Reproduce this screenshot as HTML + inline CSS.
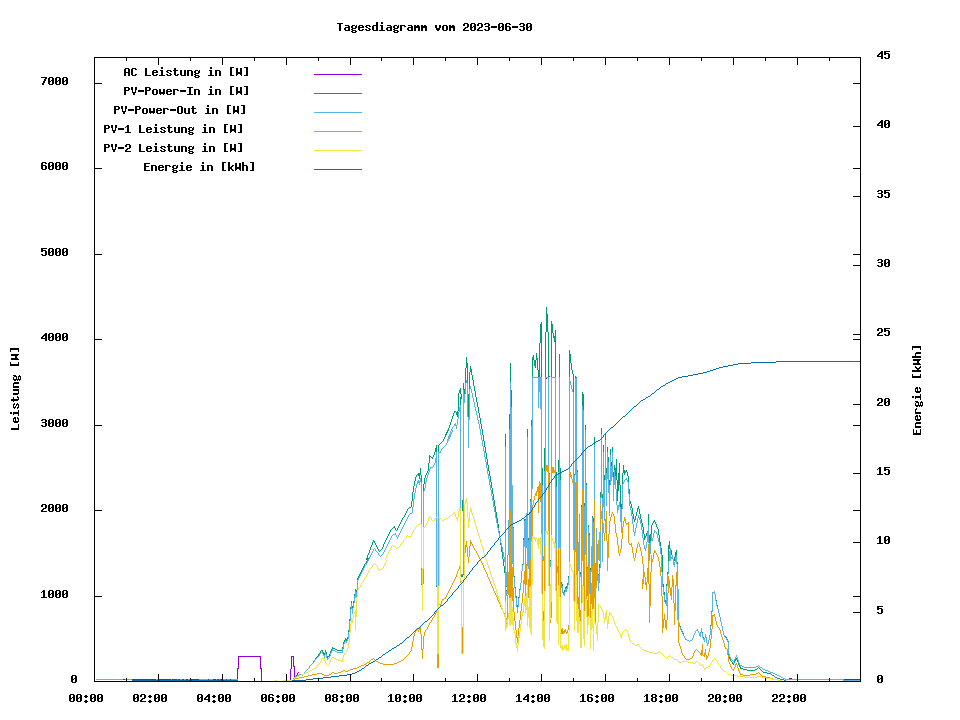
<!DOCTYPE html>
<html lang="de"><head><meta charset="utf-8"><title>Tagesdiagramm vom 2023-06-30</title>
<style>html,body{margin:0;padding:0;background:#fff;font-family:"Liberation Mono",monospace}svg{display:block}</style></head>
<body>
<svg width="960" height="720" viewBox="0 0 960 720" shape-rendering="crispEdges" role="img" aria-label="Tagesdiagramm vom 2023-06-30">
<rect width="960" height="720" fill="#fff"/>
<path id="series-ac" fill="#9400d3" d="M549 376h1v1h-1zM540 377h2v1h-2zM547 377h2v1h-2zM552 377h4v1h-4zM546 378h1v1h-1zM538 393h1v1h-1zM538 394h1v1h-1zM538 395h1v1h-1zM238 656h23v1h-23zM291 656h3v1h-3zM238 657h1v1h-1zM260 657h1v1h-1zM291 657h1v1h-1zM293 657h1v1h-1zM238 658h1v1h-1zM260 658h1v1h-1zM291 658h1v1h-1zM293 658h1v1h-1zM238 659h1v1h-1zM260 659h1v1h-1zM291 659h1v1h-1zM293 659h1v1h-1zM238 660h1v1h-1zM260 660h1v1h-1zM291 660h1v1h-1zM293 660h1v1h-1zM238 661h1v1h-1zM260 661h1v1h-1zM291 661h1v1h-1zM293 661h1v1h-1zM238 662h1v1h-1zM260 662h1v1h-1zM291 662h1v1h-1zM293 662h1v1h-1zM238 663h1v1h-1zM260 663h1v1h-1zM291 663h1v1h-1zM293 663h1v1h-1zM238 664h1v1h-1zM260 664h1v1h-1zM291 664h1v1h-1zM293 664h1v1h-1zM238 665h1v1h-1zM260 665h1v1h-1zM291 665h1v1h-1zM293 665h1v1h-1zM238 666h1v1h-1zM260 666h1v1h-1zM291 666h1v1h-1zM293 666h2v1h-2zM238 667h1v1h-1zM260 667h1v1h-1zM291 667h1v1h-1zM294 667h1v1h-1zM237 668h2v1h-2zM260 668h2v1h-2zM291 668h1v1h-1zM294 668h1v1h-1zM237 669h1v1h-1zM261 669h1v1h-1zM290 669h1v1h-1zM294 669h1v1h-1zM237 670h1v1h-1zM261 670h1v1h-1zM290 670h1v1h-1zM294 670h1v1h-1zM237 671h1v1h-1zM261 671h1v1h-1zM290 671h1v1h-1zM294 671h1v1h-1zM237 672h1v1h-1zM261 672h1v1h-1zM290 672h1v1h-1zM294 672h1v1h-1zM298 672h1v1h-1zM237 673h1v1h-1zM261 673h1v1h-1zM290 673h1v1h-1zM294 673h1v1h-1zM297 673h1v1h-1zM237 674h1v1h-1zM261 674h1v1h-1zM290 674h1v1h-1zM294 674h1v1h-1zM297 674h1v1h-1zM237 675h1v1h-1zM261 675h1v1h-1zM290 675h1v1h-1zM294 675h1v1h-1zM296 675h1v1h-1zM237 676h1v1h-1zM261 676h1v1h-1zM290 676h1v1h-1zM294 676h2v1h-2zM237 677h1v1h-1zM261 677h1v1h-1zM290 677h1v1h-1zM294 677h2v1h-2zM237 678h1v1h-1zM261 678h1v1h-1zM290 678h1v1h-1zM294 678h1v1h-1zM789 678h3v1h-3zM797 678h1v1h-1zM123 679h2v1h-2zM132 679h24v1h-24zM158 679h13v1h-13zM172 679h5v1h-5zM178 679h2v1h-2zM182 679h2v1h-2zM186 679h2v1h-2zM190 679h9v1h-9zM208 679h1v1h-1zM213 679h3v1h-3zM217 679h2v1h-2zM220 679h2v1h-2zM226 679h1v1h-1zM230 679h1v1h-1zM237 679h1v1h-1zM261 679h1v1h-1zM290 679h1v1h-1zM843 679h18v1h-18zM237 680h1v1h-1zM261 680h1v1h-1zM290 680h1v1h-1z"/>
<path id="series-pin" fill="#009e73" d="M292 680h1v1h-1zM293 678h1v2h-1zM294 677h1v1h-1zM295 676h1v1h-1zM296 676h1v1h-1zM297 675h1v1h-1zM298 675h1v1h-1zM299 674h1v1h-1zM300 674h1v1h-1zM301 674h1v1h-1zM302 675h1v1h-1zM303 674h1v1h-1zM304 672h1v2h-1zM305 671h1v1h-1zM306 670h1v1h-1zM307 669h1v1h-1zM308 668h1v1h-1zM309 666h1v2h-1zM310 665h1v1h-1zM311 664h1v1h-1zM312 663h1v1h-1zM313 661h1v2h-1zM314 660h1v1h-1zM315 658h1v2h-1zM316 657h1v1h-1zM317 656h1v1h-1zM318 654h1v2h-1zM319 653h1v1h-1zM320 651h1v2h-1zM321 650h1v1h-1zM322 650h1v2h-1zM323 652h1v2h-1zM324 653h1v3h-1zM325 650h1v3h-1zM326 652h1v4h-1zM327 656h1v2h-1zM328 656h1v1h-1zM329 654h1v2h-1zM330 651h1v3h-1zM331 649h1v2h-1zM332 647h1v2h-1zM333 648h1v1h-1zM334 648h1v1h-1zM335 649h1v1h-1zM336 649h1v1h-1zM337 650h1v1h-1zM338 650h1v1h-1zM339 650h1v1h-1zM340 650h1v1h-1zM341 650h1v1h-1zM342 647h1v4h-1zM343 642h1v5h-1zM344 640h1v2h-1zM345 638h1v2h-1zM346 639h1v2h-1zM347 637h1v2h-1zM348 630h1v7h-1zM349 619h1v11h-1zM350 607h1v12h-1zM351 601h1v6h-1zM352 606h1v6h-1zM353 601h1v5h-1zM354 594h1v7h-1zM355 589h1v7h-1zM356 590h1v12h-1zM357 578h1v12h-1zM358 576h1v2h-1zM359 574h1v2h-1zM360 572h1v2h-1zM361 570h1v2h-1zM362 568h1v2h-1zM363 566h1v2h-1zM364 564h1v2h-1zM365 563h1v1h-1zM366 558h1v2h-1zM366 561h1v2h-1zM367 555h1v6h-1zM368 553h1v2h-1zM368 558h1v1h-1zM369 550h1v3h-1zM370 547h1v3h-1zM371 545h1v2h-1zM372 542h1v3h-1zM373 540h1v2h-1zM374 541h1v2h-1zM375 543h1v2h-1zM376 545h1v2h-1zM377 547h1v2h-1zM378 549h1v2h-1zM379 551h1v1h-1zM380 550h1v1h-1zM381 549h1v1h-1zM382 547h1v2h-1zM383 544h1v3h-1zM384 542h1v2h-1zM385 540h1v2h-1zM386 538h1v2h-1zM387 536h1v2h-1zM388 534h1v2h-1zM389 532h1v2h-1zM390 530h1v2h-1zM391 529h1v1h-1zM392 528h1v1h-1zM393 527h1v1h-1zM394 526h1v2h-1zM395 528h1v2h-1zM396 530h1v1h-1zM397 528h1v2h-1zM398 526h1v2h-1zM399 524h1v2h-1zM400 522h1v2h-1zM401 520h1v2h-1zM402 518h1v2h-1zM403 517h1v1h-1zM404 515h1v2h-1zM405 513h1v2h-1zM406 511h1v2h-1zM407 509h1v2h-1zM408 508h1v1h-1zM409 507h1v1h-1zM410 507h1v1h-1zM411 501h1v6h-1zM412 492h1v9h-1zM413 486h1v6h-1zM414 481h1v5h-1zM415 477h1v4h-1zM416 475h1v2h-1zM417 474h1v1h-1zM418 473h1v3h-1zM419 473h1v6h-1zM420 468h1v7h-1zM421 475h1v110h-1zM422 584h1v2h-1zM423 484h1v100h-1zM424 478h1v6h-1zM425 475h1v3h-1zM426 473h1v2h-1zM427 471h1v2h-1zM428 463h1v8h-1zM429 455h1v8h-1zM430 456h1v1h-1zM431 457h1v1h-1zM432 457h1v2h-1zM433 455h1v2h-1zM434 452h1v3h-1zM435 448h1v4h-1zM436 445h1v142h-1zM437 580h1v9h-1zM438 445h1v142h-1zM439 444h1v1h-1zM440 443h1v1h-1zM441 442h1v1h-1zM442 441h1v1h-1zM443 439h1v2h-1zM444 437h1v2h-1zM445 434h1v3h-1zM446 432h1v3h-1zM447 430h1v3h-1zM448 428h1v3h-1zM449 425h1v3h-1zM450 422h1v3h-1zM451 419h1v3h-1zM452 416h1v3h-1zM453 413h1v3h-1zM454 411h1v2h-1zM455 411h1v1h-1zM456 412h1v3h-1zM457 411h1v6h-1zM458 393h1v18h-1zM459 390h1v3h-1zM460 388h1v6h-1zM460 397h1v178h-1zM461 394h1v5h-1zM461 575h1v2h-1zM462 500h1v11h-1zM462 575h1v2h-1zM463 383h1v192h-1zM464 389h1v12h-1zM465 368h1v21h-1zM466 357h1v11h-1zM467 363h1v31h-1zM468 394h1v27h-1zM469 372h1v27h-1zM470 366h1v6h-1zM471 369h1v6h-1zM472 375h1v5h-1zM473 380h1v6h-1zM474 386h1v5h-1zM475 391h1v6h-1zM476 397h1v5h-1zM477 402h1v5h-1zM478 407h1v6h-1zM479 413h1v5h-1zM480 418h1v6h-1zM481 424h1v5h-1zM482 429h1v6h-1zM483 435h1v6h-1zM484 441h1v6h-1zM485 447h1v6h-1zM486 453h1v6h-1zM487 459h1v6h-1zM488 465h1v6h-1zM489 471h1v5h-1zM490 476h1v6h-1zM491 482h1v6h-1zM492 488h1v6h-1zM493 494h1v6h-1zM494 500h1v6h-1zM495 506h1v6h-1zM496 512h1v6h-1zM497 518h1v6h-1zM498 524h1v7h-1zM499 531h1v7h-1zM500 538h1v7h-1zM501 545h1v7h-1zM502 552h1v7h-1zM503 559h1v7h-1zM504 566h1v7h-1zM505 434h1v162h-1zM506 580h1v7h-1zM506 590h1v6h-1zM507 555h1v37h-1zM508 520h1v35h-1zM509 414h1v164h-1zM510 363h1v209h-1zM511 390h1v177h-1zM512 485h1v78h-1zM513 527h1v49h-1zM514 576h1v11h-1zM515 587h1v9h-1zM516 596h1v10h-1zM517 605h1v6h-1zM518 597h1v8h-1zM519 589h1v8h-1zM520 583h1v6h-1zM521 571h1v12h-1zM522 564h1v7h-1zM523 538h1v26h-1zM524 519h1v27h-1zM525 519h1v53h-1zM526 513h1v34h-1zM527 429h1v156h-1zM528 538h1v30h-1zM529 512h1v85h-1zM530 499h1v102h-1zM531 420h1v180h-1zM532 357h1v130h-1zM533 355h1v5h-1zM534 360h1v6h-1zM535 360h1v8h-1zM536 353h1v7h-1zM537 358h1v12h-1zM538 370h1v20h-1zM539 343h1v40h-1zM540 324h1v19h-1zM541 322h1v146h-1zM542 468h1v94h-1zM543 556h1v5h-1zM544 448h1v117h-1zM545 332h1v116h-1zM546 307h1v25h-1zM547 314h1v18h-1zM548 332h1v141h-1zM549 473h1v98h-1zM550 560h1v6h-1zM551 321h1v249h-1zM552 324h1v9h-1zM553 333h1v5h-1zM554 336h1v6h-1zM555 330h1v142h-1zM556 472h1v94h-1zM557 566h1v5h-1zM558 460h1v106h-1zM559 354h1v114h-1zM560 468h1v118h-1zM561 582h1v6h-1zM562 584h1v8h-1zM563 592h1v2h-1zM564 590h1v6h-1zM565 587h1v3h-1zM566 586h1v4h-1zM567 583h1v5h-1zM568 576h1v9h-1zM569 350h1v226h-1zM570 354h1v9h-1zM571 363h1v7h-1zM572 370h1v4h-1zM573 374h1v100h-1zM574 474h1v99h-1zM575 376h1v98h-1zM576 377h1v183h-1zM577 470h1v96h-1zM578 542h1v29h-1zM579 514h1v63h-1zM580 572h1v5h-1zM581 505h1v73h-1zM582 392h1v122h-1zM583 394h1v187h-1zM584 503h1v79h-1zM585 425h1v78h-1zM586 483h1v84h-1zM587 567h1v27h-1zM588 525h1v68h-1zM589 533h1v35h-1zM590 568h1v31h-1zM591 546h1v26h-1zM592 516h1v77h-1zM593 518h1v82h-1zM594 437h1v156h-1zM595 563h1v36h-1zM596 528h1v35h-1zM597 544h1v30h-1zM598 574h1v15h-1zM599 564h1v16h-1zM600 492h1v72h-1zM601 428h1v66h-1zM602 494h1v65h-1zM603 445h1v57h-1zM604 475h1v42h-1zM605 434h1v41h-1zM606 468h1v33h-1zM607 447h1v27h-1zM608 457h1v32h-1zM609 480h1v32h-1zM610 449h1v31h-1zM611 462h1v15h-1zM612 447h1v25h-1zM613 472h1v25h-1zM614 465h1v16h-1zM615 468h1v9h-1zM616 459h1v21h-1zM617 480h1v21h-1zM618 473h1v18h-1zM619 463h1v22h-1zM620 485h1v32h-1zM621 504h1v25h-1zM622 473h1v31h-1zM623 465h1v8h-1zM624 470h1v5h-1zM625 471h1v2h-1zM626 470h1v2h-1zM627 472h1v4h-1zM628 476h1v13h-1zM629 489h1v12h-1zM630 501h1v3h-1zM631 504h1v4h-1zM632 508h1v6h-1zM633 514h1v5h-1zM634 519h1v3h-1zM635 516h1v4h-1zM636 512h1v4h-1zM637 508h1v4h-1zM638 506h1v3h-1zM639 509h1v5h-1zM640 514h1v5h-1zM641 519h1v4h-1zM642 523h1v4h-1zM643 527h1v7h-1zM644 534h1v6h-1zM645 536h1v2h-1zM646 533h1v3h-1zM647 531h1v2h-1zM648 514h1v21h-1zM649 535h1v21h-1zM650 534h1v14h-1zM651 525h1v9h-1zM652 523h1v2h-1zM653 521h1v2h-1zM654 520h1v2h-1zM655 522h1v2h-1zM656 524h1v3h-1zM657 527h1v2h-1zM658 529h1v6h-1zM659 535h1v7h-1zM660 542h1v6h-1zM661 548h1v7h-1zM662 555h1v29h-1zM663 584h1v8h-1zM664 592h1v8h-1zM665 600h1v3h-1zM666 584h1v21h-1zM667 572h1v12h-1zM668 545h1v27h-1zM669 541h1v8h-1zM670 549h1v7h-1zM671 550h1v5h-1zM672 555h1v4h-1zM673 559h1v1h-1zM674 557h1v4h-1zM675 552h1v5h-1zM676 550h1v12h-1zM677 562h1v27h-1zM678 589h1v34h-1zM679 623h1v3h-1zM680 626h1v3h-1zM681 629h1v2h-1zM682 631h1v2h-1zM683 633h1v3h-1zM684 636h1v2h-1zM685 638h1v2h-1zM686 639h1v1h-1zM687 640h1v1h-1zM688 640h1v1h-1zM689 641h1v1h-1zM690 640h1v1h-1zM691 640h1v1h-1zM692 638h1v2h-1zM693 635h1v3h-1zM694 633h1v2h-1zM695 631h1v2h-1zM696 630h1v1h-1zM697 629h1v2h-1zM698 631h1v2h-1zM699 633h1v3h-1zM700 632h1v5h-1zM701 628h1v4h-1zM702 632h1v5h-1zM703 637h1v3h-1zM704 638h1v4h-1zM705 634h1v4h-1zM706 637h1v6h-1zM707 643h1v3h-1zM708 640h1v4h-1zM709 635h1v5h-1zM710 625h1v10h-1zM711 611h1v14h-1zM712 592h1v19h-1zM713 592h1v1h-1zM714 591h1v3h-1zM715 594h1v6h-1zM716 600h1v5h-1zM717 605h1v4h-1zM718 609h1v4h-1zM719 613h1v4h-1zM720 617h1v5h-1zM721 622h1v4h-1zM722 626h1v5h-1zM723 631h1v4h-1zM724 635h1v2h-1zM725 636h1v1h-1zM726 637h1v2h-1zM727 639h1v2h-1zM728 641h1v14h-1zM729 655h1v4h-1zM730 659h1v2h-1zM731 661h1v1h-1zM732 662h1v2h-1zM733 663h1v2h-1zM734 661h1v2h-1zM735 659h1v2h-1zM736 658h1v2h-1zM737 660h1v2h-1zM738 662h1v3h-1zM739 665h1v2h-1zM740 667h1v2h-1zM741 668h1v1h-1zM742 668h1v1h-1zM743 669h1v1h-1zM744 669h1v1h-1zM745 669h1v1h-1zM746 669h1v1h-1zM747 670h1v1h-1zM748 670h1v1h-1zM749 670h1v1h-1zM750 670h1v1h-1zM751 670h1v1h-1zM752 670h1v1h-1zM753 670h1v1h-1zM754 670h1v1h-1zM755 669h1v1h-1zM756 669h1v1h-1zM757 668h1v1h-1zM758 667h1v1h-1zM759 668h1v1h-1zM760 669h1v1h-1zM761 670h1v1h-1zM762 671h1v1h-1zM763 672h1v1h-1zM764 672h1v1h-1zM765 672h1v1h-1zM766 672h1v1h-1zM767 673h1v1h-1zM768 673h1v1h-1zM769 673h1v1h-1zM770 673h1v1h-1zM771 674h1v1h-1zM772 675h1v1h-1zM773 675h1v1h-1zM774 676h1v1h-1zM775 677h1v1h-1zM776 677h1v1h-1zM777 678h1v1h-1zM778 678h1v1h-1zM779 678h1v1h-1zM780 679h1v1h-1zM781 679h1v1h-1zM782 679h1v1h-1zM783 679h1v1h-1zM784 680h1v1h-1zM785 680h1v1h-1z"/>
<path id="series-pout" fill="#56b4e9" d="M96 679h1v1h-1zM97 679h1v1h-1zM98 679h1v1h-1zM99 679h1v1h-1zM100 679h1v1h-1zM101 679h1v1h-1zM102 679h1v1h-1zM103 679h1v1h-1zM104 679h1v1h-1zM105 679h1v1h-1zM106 679h1v1h-1zM107 679h1v1h-1zM108 679h1v1h-1zM109 679h1v1h-1zM110 679h1v1h-1zM111 679h1v1h-1zM112 679h1v1h-1zM113 679h1v1h-1zM114 679h1v1h-1zM115 679h1v1h-1zM116 679h1v1h-1zM117 679h1v1h-1zM118 679h1v1h-1zM119 679h1v1h-1zM120 679h1v1h-1zM121 679h1v1h-1zM122 679h1v1h-1zM125 679h1v1h-1zM126 679h1v1h-1zM127 679h1v1h-1zM128 679h1v1h-1zM129 679h1v1h-1zM130 679h1v1h-1zM131 679h1v1h-1zM156 679h1v1h-1zM157 679h1v1h-1zM171 679h1v1h-1zM177 679h1v1h-1zM180 679h1v1h-1zM181 679h1v1h-1zM184 679h1v1h-1zM185 679h1v1h-1zM188 679h1v1h-1zM189 679h1v1h-1zM199 679h1v1h-1zM200 679h1v1h-1zM201 679h1v1h-1zM202 679h1v1h-1zM203 679h1v1h-1zM204 679h1v1h-1zM205 679h1v1h-1zM206 679h1v1h-1zM207 679h1v1h-1zM209 679h1v1h-1zM210 679h1v1h-1zM211 679h1v1h-1zM212 679h1v1h-1zM216 679h1v1h-1zM219 679h1v1h-1zM222 679h1v1h-1zM223 679h1v1h-1zM224 679h1v1h-1zM225 679h1v1h-1zM227 679h1v1h-1zM228 679h1v1h-1zM229 679h1v1h-1zM231 679h1v1h-1zM232 679h1v1h-1zM233 679h1v1h-1zM234 679h1v1h-1zM235 679h1v1h-1zM236 679h1v1h-1zM237 679h1v1h-1zM292 680h1v1h-1zM293 678h1v2h-1zM294 677h1v1h-1zM295 676h1v1h-1zM296 676h1v1h-1zM297 675h1v1h-1zM298 675h1v1h-1zM299 674h1v1h-1zM300 674h1v1h-1zM301 674h1v1h-1zM302 675h1v1h-1zM303 674h1v1h-1zM304 672h1v2h-1zM305 671h1v1h-1zM306 670h1v1h-1zM307 669h1v1h-1zM308 668h1v1h-1zM309 666h1v2h-1zM310 665h1v1h-1zM311 664h1v1h-1zM312 663h1v1h-1zM313 662h1v1h-1zM314 660h1v2h-1zM315 659h1v1h-1zM316 658h1v1h-1zM317 657h1v1h-1zM318 656h1v1h-1zM319 654h1v2h-1zM320 653h1v1h-1zM321 652h1v1h-1zM322 652h1v2h-1zM323 654h1v2h-1zM324 655h1v3h-1zM325 652h1v3h-1zM326 654h1v4h-1zM327 658h1v2h-1zM328 658h1v1h-1zM329 656h1v2h-1zM330 653h1v3h-1zM331 651h1v2h-1zM332 649h1v2h-1zM333 650h1v1h-1zM334 650h1v1h-1zM335 651h1v1h-1zM336 651h1v1h-1zM337 652h1v1h-1zM338 652h1v1h-1zM339 652h1v1h-1zM340 652h1v1h-1zM341 652h1v1h-1zM342 649h1v4h-1zM343 644h1v5h-1zM344 642h1v2h-1zM345 640h1v2h-1zM346 641h1v2h-1zM347 639h1v2h-1zM348 632h1v7h-1zM349 621h1v11h-1zM350 609h1v12h-1zM351 603h1v6h-1zM352 608h1v6h-1zM353 603h1v5h-1zM354 596h1v7h-1zM355 591h1v7h-1zM356 592h1v12h-1zM357 580h1v12h-1zM358 578h1v2h-1zM359 576h1v2h-1zM360 574h1v2h-1zM361 572h1v2h-1zM362 570h1v2h-1zM363 568h1v2h-1zM364 566h1v2h-1zM365 565h1v1h-1zM366 563h1v2h-1zM367 561h1v2h-1zM368 559h1v2h-1zM369 557h1v2h-1zM370 555h1v2h-1zM371 553h1v2h-1zM372 551h1v2h-1zM373 549h1v2h-1zM374 548h1v1h-1zM375 549h1v2h-1zM376 551h1v1h-1zM377 552h1v1h-1zM378 553h1v2h-1zM379 555h1v1h-1zM380 556h1v1h-1zM381 555h1v1h-1zM382 554h1v1h-1zM383 552h1v2h-1zM384 550h1v2h-1zM385 548h1v2h-1zM386 546h1v2h-1zM387 544h1v2h-1zM388 542h1v2h-1zM389 540h1v2h-1zM390 538h1v2h-1zM391 536h1v2h-1zM392 535h1v1h-1zM393 534h1v1h-1zM394 534h1v1h-1zM395 533h1v2h-1zM396 535h1v2h-1zM397 537h1v2h-1zM398 535h1v2h-1zM399 533h1v2h-1zM400 531h1v2h-1zM401 529h1v2h-1zM402 527h1v2h-1zM403 525h1v2h-1zM404 523h1v2h-1zM405 521h1v2h-1zM406 519h1v2h-1zM407 517h1v2h-1zM408 515h1v2h-1zM409 514h1v1h-1zM410 513h1v1h-1zM411 513h1v1h-1zM412 507h1v6h-1zM413 499h1v8h-1zM414 493h1v6h-1zM415 488h1v5h-1zM416 484h1v4h-1zM417 481h1v3h-1zM418 480h1v3h-1zM419 481h1v4h-1zM420 478h1v4h-1zM421 482h1v102h-1zM422 583h1v1h-1zM423 491h1v93h-1zM424 488h1v3h-1zM425 482h1v6h-1zM426 478h1v4h-1zM427 475h1v3h-1zM428 472h1v3h-1zM429 469h1v3h-1zM430 467h1v2h-1zM431 467h1v1h-1zM432 467h1v1h-1zM433 465h1v2h-1zM434 463h1v2h-1zM435 458h1v5h-1zM436 452h1v134h-1zM437 585h1v1h-1zM438 452h1v134h-1zM439 452h1v1h-1zM440 451h1v2h-1zM441 449h1v2h-1zM442 448h1v1h-1zM443 447h1v1h-1zM444 446h1v1h-1zM445 445h1v1h-1zM446 443h1v2h-1zM447 439h1v4h-1zM448 436h1v5h-1zM449 434h1v5h-1zM450 431h1v6h-1zM451 429h1v2h-1zM451 432h1v2h-1zM452 427h1v2h-1zM452 430h1v2h-1zM453 426h1v1h-1zM454 424h1v2h-1zM455 423h1v3h-1zM456 425h1v4h-1zM457 419h1v6h-1zM458 412h1v7h-1zM459 407h1v5h-1zM460 405h1v169h-1zM461 574h1v1h-1zM462 574h1v1h-1zM463 390h1v184h-1zM464 394h1v9h-1zM465 383h1v11h-1zM466 380h1v3h-1zM467 383h1v34h-1zM468 417h1v31h-1zM469 389h1v31h-1zM470 386h1v3h-1zM471 389h1v4h-1zM472 393h1v5h-1zM473 398h1v4h-1zM474 402h1v5h-1zM475 407h1v4h-1zM476 411h1v4h-1zM477 415h1v5h-1zM478 420h1v4h-1zM479 424h1v5h-1zM480 429h1v6h-1zM481 435h1v5h-1zM482 440h1v6h-1zM483 446h1v5h-1zM484 451h1v6h-1zM485 457h1v5h-1zM486 462h1v6h-1zM487 468h1v6h-1zM488 474h1v5h-1zM489 479h1v6h-1zM490 485h1v5h-1zM491 490h1v6h-1zM492 496h1v5h-1zM493 501h1v6h-1zM494 507h1v5h-1zM495 512h1v6h-1zM496 518h1v5h-1zM497 523h1v5h-1zM498 528h1v5h-1zM499 533h1v5h-1zM500 538h1v5h-1zM501 543h1v4h-1zM502 547h1v5h-1zM503 552h1v5h-1zM504 557h1v5h-1zM505 447h1v151h-1zM506 572h1v14h-1zM506 591h1v5h-1zM507 555h1v39h-1zM508 520h1v35h-1zM509 429h1v149h-1zM510 382h1v191h-1zM511 407h1v162h-1zM512 485h1v79h-1zM513 528h1v49h-1zM514 577h1v11h-1zM515 588h1v10h-1zM516 598h1v9h-1zM517 607h1v6h-1zM518 598h1v9h-1zM519 590h1v8h-1zM520 583h1v7h-1zM521 571h1v12h-1zM522 565h1v6h-1zM523 540h1v25h-1zM524 521h1v26h-1zM525 520h1v52h-1zM526 513h1v35h-1zM527 437h1v148h-1zM528 540h1v29h-1zM529 514h1v83h-1zM530 501h1v100h-1zM531 426h1v176h-1zM532 377h1v112h-1zM533 377h1v1h-1zM534 377h1v1h-1zM535 377h1v1h-1zM536 377h1v1h-1zM537 377h1v1h-1zM538 377h1v31h-1zM539 377h1v15h-1zM540 377h1v32h-1zM541 377h1v108h-1zM542 485h1v77h-1zM543 556h1v5h-1zM544 471h1v94h-1zM545 377h1v94h-1zM546 377h1v1h-1zM547 377h1v1h-1zM548 377h1v97h-1zM549 474h1v99h-1zM550 561h1v6h-1zM551 377h1v195h-1zM552 377h1v1h-1zM553 377h1v1h-1zM554 377h1v1h-1zM555 377h1v110h-1zM556 487h1v81h-1zM557 566h1v7h-1zM558 472h1v96h-1zM559 377h1v103h-1zM560 480h1v106h-1zM561 584h1v4h-1zM562 586h1v7h-1zM563 593h1v2h-1zM564 592h1v4h-1zM565 589h1v3h-1zM566 588h1v4h-1zM567 585h1v4h-1zM568 578h1v7h-1zM569 377h1v201h-1zM570 381h1v4h-1zM571 385h1v4h-1zM572 389h1v3h-1zM573 392h1v91h-1zM574 475h1v98h-1zM575 378h1v97h-1zM576 378h1v184h-1zM577 472h1v95h-1zM578 542h1v29h-1zM579 514h1v65h-1zM580 574h1v3h-1zM581 507h1v71h-1zM582 406h1v108h-1zM583 410h1v173h-1zM584 506h1v78h-1zM585 430h1v76h-1zM586 485h1v83h-1zM587 568h1v28h-1zM588 527h1v68h-1zM589 535h1v35h-1zM590 570h1v29h-1zM591 546h1v26h-1zM592 518h1v77h-1zM593 522h1v79h-1zM594 445h1v149h-1zM595 563h1v36h-1zM596 528h1v35h-1zM597 544h1v31h-1zM598 575h1v16h-1zM599 568h1v15h-1zM600 497h1v71h-1zM601 434h1v64h-1zM602 498h1v64h-1zM603 452h1v55h-1zM604 480h1v41h-1zM605 440h1v40h-1zM606 473h1v33h-1zM607 452h1v27h-1zM608 462h1v31h-1zM609 485h1v31h-1zM610 455h1v30h-1zM611 466h1v15h-1zM612 452h1v25h-1zM613 477h1v24h-1zM614 470h1v15h-1zM615 476h1v13h-1zM616 489h1v16h-1zM617 505h1v8h-1zM618 505h1v5h-1zM619 502h1v5h-1zM620 507h1v15h-1zM621 509h1v24h-1zM622 484h1v25h-1zM623 482h1v2h-1zM624 480h1v2h-1zM625 479h1v1h-1zM626 478h1v2h-1zM627 480h1v2h-1zM628 482h1v12h-1zM629 494h1v12h-1zM630 506h1v4h-1zM631 510h1v6h-1zM632 516h1v8h-1zM633 524h1v8h-1zM634 532h1v4h-1zM635 528h1v5h-1zM636 523h1v5h-1zM637 518h1v5h-1zM638 515h1v3h-1zM639 517h1v3h-1zM640 520h1v4h-1zM641 524h1v6h-1zM642 530h1v8h-1zM643 538h1v7h-1zM644 545h1v4h-1zM645 548h1v3h-1zM646 542h1v6h-1zM647 532h1v10h-1zM648 525h1v18h-1zM649 543h1v18h-1zM650 541h1v13h-1zM651 534h1v7h-1zM652 538h1v3h-1zM653 533h1v5h-1zM654 530h1v3h-1zM655 531h1v1h-1zM656 532h1v2h-1zM657 534h1v4h-1zM658 538h1v4h-1zM659 542h1v4h-1zM660 546h1v8h-1zM661 554h1v18h-1zM662 572h1v15h-1zM663 587h1v8h-1zM664 595h1v7h-1zM665 602h1v2h-1zM666 586h1v20h-1zM667 574h1v12h-1zM668 561h1v13h-1zM669 551h1v10h-1zM670 548h1v13h-1zM671 557h1v2h-1zM672 555h1v4h-1zM673 559h1v6h-1zM674 562h1v5h-1zM675 557h1v5h-1zM676 555h1v9h-1zM677 564h1v25h-1zM678 589h1v34h-1zM679 623h1v4h-1zM680 627h1v3h-1zM681 630h1v2h-1zM682 632h1v2h-1zM683 634h1v2h-1zM684 636h1v2h-1zM685 638h1v2h-1zM686 639h1v1h-1zM687 640h1v1h-1zM688 640h1v1h-1zM689 641h1v1h-1zM690 640h1v1h-1zM691 640h1v1h-1zM692 638h1v2h-1zM693 635h1v3h-1zM694 633h1v2h-1zM695 631h1v2h-1zM696 630h1v1h-1zM697 629h1v2h-1zM698 631h1v2h-1zM699 633h1v3h-1zM700 632h1v5h-1zM701 628h1v5h-1zM702 633h1v5h-1zM703 638h1v2h-1zM704 638h1v4h-1zM705 634h1v4h-1zM706 637h1v6h-1zM707 643h1v3h-1zM708 640h1v4h-1zM709 635h1v5h-1zM710 626h1v9h-1zM711 612h1v14h-1zM712 592h1v20h-1zM713 592h1v1h-1zM714 591h1v3h-1zM715 594h1v7h-1zM716 601h1v5h-1zM717 606h1v3h-1zM718 609h1v4h-1zM719 613h1v4h-1zM720 617h1v5h-1zM721 622h1v4h-1zM722 626h1v5h-1zM723 631h1v4h-1zM724 635h1v2h-1zM725 637h1v1h-1zM726 638h1v2h-1zM727 640h1v2h-1zM728 642h1v12h-1zM729 654h1v3h-1zM730 657h1v2h-1zM731 659h1v1h-1zM732 660h1v1h-1zM733 661h1v1h-1zM734 659h1v2h-1zM735 657h1v2h-1zM736 655h1v2h-1zM737 657h1v3h-1zM738 660h1v3h-1zM739 663h1v2h-1zM740 665h1v2h-1zM741 665h1v1h-1zM742 666h1v1h-1zM743 666h1v1h-1zM744 667h1v1h-1zM745 667h1v1h-1zM746 667h1v1h-1zM747 667h1v1h-1zM748 667h1v1h-1zM749 667h1v1h-1zM750 667h1v1h-1zM751 667h1v1h-1zM752 667h1v1h-1zM753 667h1v1h-1zM754 667h1v1h-1zM755 667h1v1h-1zM756 666h1v1h-1zM757 666h1v1h-1zM758 665h1v1h-1zM759 666h1v1h-1zM760 667h1v1h-1zM761 667h1v1h-1zM762 668h1v1h-1zM763 669h1v1h-1zM764 669h1v1h-1zM765 670h1v1h-1zM766 670h1v1h-1zM767 670h1v1h-1zM768 671h1v1h-1zM769 671h1v1h-1zM770 672h1v1h-1zM771 672h1v1h-1zM772 672h1v1h-1zM773 673h1v1h-1zM774 673h1v1h-1zM775 674h1v1h-1zM776 674h1v1h-1zM777 675h1v1h-1zM778 675h1v1h-1zM779 676h1v1h-1zM780 676h1v1h-1zM781 677h1v1h-1zM782 677h1v1h-1zM783 678h1v1h-1zM784 678h1v1h-1zM785 679h1v1h-1zM786 679h1v1h-1zM787 679h1v1h-1zM788 679h1v1h-1zM789 679h1v1h-1zM790 679h1v1h-1zM791 679h1v1h-1zM792 679h1v1h-1zM793 679h1v1h-1zM794 679h1v1h-1zM795 679h1v1h-1zM796 679h1v1h-1zM797 679h1v1h-1zM798 679h1v1h-1zM799 679h1v1h-1zM800 679h1v1h-1zM801 679h1v1h-1zM802 679h1v1h-1zM803 679h1v1h-1zM804 679h1v1h-1zM805 679h1v1h-1zM806 679h1v1h-1zM807 679h1v1h-1zM808 679h1v1h-1zM809 679h1v1h-1zM810 679h1v1h-1zM811 679h1v1h-1zM812 679h1v1h-1zM813 679h1v1h-1zM814 679h1v1h-1zM815 679h1v1h-1zM816 679h1v1h-1zM817 679h1v1h-1zM818 679h1v1h-1zM819 679h1v1h-1zM820 679h1v1h-1zM821 679h1v1h-1zM822 679h1v1h-1zM823 679h1v1h-1zM824 679h1v1h-1zM825 679h1v1h-1zM826 679h1v1h-1zM827 679h1v1h-1zM828 679h1v1h-1zM829 679h1v1h-1zM830 679h1v1h-1zM831 679h1v1h-1zM832 679h1v1h-1zM833 679h1v1h-1zM834 679h1v1h-1zM835 679h1v1h-1zM836 679h1v1h-1zM837 679h1v1h-1zM838 679h1v1h-1zM839 679h1v1h-1zM840 679h1v1h-1zM841 679h1v1h-1zM842 679h1v1h-1zM843 679h1v2h-1zM844 680h1v1h-1zM845 680h1v1h-1zM846 680h1v1h-1zM847 680h1v1h-1zM848 680h1v1h-1zM849 680h1v1h-1zM850 680h1v1h-1zM851 680h1v1h-1zM852 680h1v1h-1zM853 680h1v1h-1zM854 680h1v1h-1zM855 680h1v1h-1zM856 680h1v1h-1zM857 680h1v1h-1zM858 680h1v1h-1zM859 680h1v1h-1zM860 680h1v1h-1z"/>
<path id="series-pv1" fill="#e69f00" d="M292 680h1v1h-1zM293 679h1v1h-1zM294 679h1v1h-1zM295 678h1v1h-1zM296 678h1v1h-1zM297 678h1v1h-1zM298 678h1v1h-1zM299 677h1v1h-1zM300 677h1v1h-1zM301 677h1v1h-1zM302 677h1v1h-1zM303 677h1v1h-1zM304 676h1v1h-1zM305 676h1v1h-1zM306 676h1v1h-1zM307 676h1v1h-1zM308 675h1v1h-1zM309 675h1v1h-1zM310 675h1v1h-1zM311 675h1v1h-1zM312 674h1v1h-1zM313 674h1v1h-1zM314 674h1v1h-1zM315 674h1v1h-1zM316 674h1v1h-1zM317 673h1v1h-1zM318 673h1v1h-1zM319 673h1v1h-1zM320 673h1v1h-1zM321 673h1v1h-1zM322 674h1v1h-1zM323 674h1v1h-1zM324 675h1v1h-1zM325 675h1v1h-1zM326 675h1v1h-1zM327 675h1v1h-1zM328 675h1v1h-1zM329 674h1v1h-1zM330 674h1v1h-1zM331 673h1v1h-1zM332 672h1v1h-1zM333 672h1v1h-1zM334 673h1v1h-1zM335 673h1v1h-1zM336 673h1v1h-1zM337 673h1v1h-1zM338 672h1v1h-1zM339 672h1v1h-1zM340 672h1v1h-1zM341 671h1v1h-1zM342 671h1v1h-1zM343 670h1v1h-1zM344 670h1v1h-1zM345 671h1v1h-1zM346 671h1v1h-1zM347 671h1v1h-1zM348 670h1v1h-1zM349 670h1v1h-1zM350 669h1v1h-1zM351 669h1v1h-1zM352 669h1v1h-1zM353 668h1v1h-1zM354 668h1v1h-1zM355 668h1v1h-1zM356 668h1v1h-1zM357 667h1v1h-1zM358 667h1v1h-1zM359 666h1v1h-1zM360 666h1v1h-1zM361 665h1v1h-1zM362 665h1v1h-1zM363 665h1v1h-1zM364 664h1v1h-1zM365 664h1v1h-1zM366 663h1v1h-1zM367 662h1v1h-1zM368 662h1v1h-1zM369 661h1v1h-1zM370 660h1v1h-1zM371 659h1v1h-1zM372 659h1v1h-1zM373 658h1v1h-1zM374 659h1v1h-1zM375 660h1v1h-1zM376 661h1v1h-1zM377 661h1v1h-1zM378 662h1v1h-1zM379 662h1v1h-1zM380 663h1v1h-1zM381 663h1v1h-1zM382 663h1v1h-1zM383 664h1v1h-1zM384 664h1v1h-1zM385 664h1v1h-1zM386 664h1v1h-1zM387 664h1v1h-1zM388 664h1v1h-1zM389 664h1v1h-1zM390 664h1v1h-1zM391 664h1v1h-1zM392 664h1v1h-1zM393 664h1v1h-1zM394 663h1v1h-1zM395 663h1v1h-1zM396 663h1v1h-1zM397 662h1v1h-1zM398 662h1v1h-1zM399 661h1v1h-1zM400 661h1v1h-1zM401 660h1v1h-1zM402 660h1v1h-1zM403 659h1v1h-1zM404 658h1v1h-1zM405 657h1v1h-1zM406 656h1v1h-1zM407 655h1v1h-1zM408 654h1v1h-1zM409 652h1v2h-1zM410 651h1v1h-1zM411 647h1v4h-1zM412 641h1v6h-1zM413 636h1v5h-1zM414 633h1v3h-1zM415 631h1v2h-1zM416 629h1v2h-1zM417 628h1v2h-1zM418 630h1v2h-1zM419 628h1v2h-1zM420 627h1v7h-1zM421 634h1v16h-1zM422 649h1v10h-1zM423 636h1v13h-1zM424 632h1v4h-1zM425 630h1v2h-1zM426 629h1v1h-1zM427 627h1v2h-1zM428 625h1v2h-1zM429 623h1v2h-1zM430 622h1v1h-1zM431 620h1v2h-1zM432 618h1v2h-1zM433 617h1v1h-1zM434 615h1v2h-1zM435 613h1v2h-1zM436 611h1v2h-1zM437 600h1v68h-1zM438 604h1v64h-1zM439 604h1v1h-1zM440 604h1v2h-1zM441 601h1v3h-1zM442 599h1v2h-1zM443 599h1v1h-1zM444 598h1v1h-1zM445 597h1v2h-1zM446 595h1v2h-1zM447 593h1v2h-1zM448 591h1v2h-1zM449 589h1v2h-1zM450 587h1v2h-1zM451 585h1v2h-1zM452 583h1v2h-1zM453 581h1v2h-1zM454 579h1v2h-1zM455 577h1v2h-1zM456 574h1v3h-1zM457 571h1v3h-1zM458 569h1v2h-1zM459 566h1v3h-1zM460 564h1v19h-1zM461 583h1v44h-1zM462 627h1v27h-1zM463 579h1v48h-1zM464 553h1v26h-1zM465 545h1v8h-1zM466 541h1v6h-1zM467 547h1v10h-1zM468 557h1v6h-1zM469 546h1v11h-1zM470 540h1v6h-1zM471 542h1v2h-1zM472 544h1v2h-1zM473 546h1v2h-1zM474 548h1v2h-1zM475 550h1v1h-1zM476 551h1v2h-1zM477 553h1v2h-1zM478 555h1v2h-1zM479 557h1v2h-1zM480 559h1v2h-1zM481 561h1v2h-1zM482 563h1v2h-1zM483 565h1v3h-1zM484 568h1v2h-1zM485 570h1v2h-1zM486 572h1v2h-1zM487 574h1v3h-1zM488 577h1v2h-1zM489 579h1v2h-1zM490 581h1v3h-1zM491 584h1v2h-1zM492 586h1v2h-1zM493 588h1v3h-1zM494 591h1v2h-1zM495 593h1v2h-1zM496 595h1v2h-1zM497 597h1v3h-1zM498 600h1v2h-1zM499 602h1v2h-1zM500 604h1v3h-1zM501 607h1v2h-1zM502 609h1v2h-1zM503 611h1v2h-1zM504 613h1v3h-1zM505 542h1v84h-1zM506 618h1v4h-1zM506 623h1v2h-1zM507 595h1v23h-1zM507 620h1v3h-1zM508 572h1v23h-1zM509 518h1v92h-1zM510 510h1v98h-1zM511 528h1v76h-1zM512 567h1v34h-1zM513 588h1v24h-1zM514 612h1v9h-1zM515 621h1v9h-1zM516 630h1v8h-1zM517 637h1v6h-1zM518 628h1v9h-1zM519 620h1v8h-1zM520 611h1v9h-1zM521 603h1v8h-1zM522 593h1v10h-1zM523 580h1v13h-1zM524 571h1v13h-1zM525 568h1v29h-1zM526 564h1v21h-1zM527 522h1v86h-1zM528 579h1v19h-1zM529 562h1v54h-1zM530 560h1v56h-1zM531 510h1v111h-1zM532 505h1v57h-1zM533 500h1v5h-1zM534 496h1v4h-1zM535 493h1v3h-1zM536 491h1v5h-1zM537 487h1v5h-1zM538 486h1v27h-1zM539 481h1v18h-1zM540 483h1v19h-1zM541 480h1v79h-1zM542 559h1v60h-1zM543 611h1v12h-1zM544 545h1v76h-1zM545 469h1v76h-1zM546 465h1v6h-1zM547 465h1v7h-1zM548 465h1v82h-1zM549 547h1v82h-1zM550 607h1v16h-1zM551 468h1v150h-1zM552 467h1v6h-1zM553 467h1v6h-1zM554 470h1v3h-1zM555 473h1v77h-1zM556 550h1v70h-1zM557 614h1v8h-1zM558 548h1v76h-1zM559 472h1v78h-1zM560 550h1v82h-1zM561 629h1v5h-1zM562 628h1v6h-1zM563 631h1v3h-1zM564 630h1v3h-1zM565 629h1v3h-1zM566 632h1v2h-1zM567 630h1v3h-1zM568 625h1v5h-1zM569 469h1v156h-1zM570 472h1v5h-1zM571 475h1v4h-1zM572 479h1v4h-1zM573 478h1v72h-1zM574 550h1v71h-1zM575 482h1v70h-1zM576 482h1v133h-1zM577 558h1v74h-1zM578 597h1v29h-1zM579 569h1v51h-1zM580 610h1v20h-1zM581 561h1v67h-1zM582 489h1v72h-1zM583 490h1v134h-1zM584 555h1v61h-1zM585 495h1v60h-1zM586 533h1v67h-1zM587 600h1v30h-1zM588 565h1v55h-1zM589 567h1v27h-1zM590 594h1v31h-1zM591 583h1v21h-1zM592 566h1v53h-1zM593 552h1v57h-1zM594 500h1v119h-1zM595 588h1v34h-1zM596 562h1v26h-1zM597 560h1v21h-1zM598 540h1v20h-1zM599 532h1v29h-1zM600 504h1v28h-1zM601 511h1v8h-1zM602 519h1v4h-1zM603 523h1v10h-1zM604 533h1v8h-1zM605 519h1v14h-1zM606 511h1v30h-1zM607 541h1v30h-1zM608 534h1v24h-1zM609 521h1v13h-1zM610 517h1v4h-1zM611 514h1v3h-1zM612 512h1v2h-1zM613 514h1v2h-1zM614 516h1v8h-1zM615 524h1v9h-1zM616 533h1v4h-1zM617 537h1v8h-1zM618 545h1v8h-1zM619 553h1v3h-1zM620 549h1v4h-1zM621 539h1v10h-1zM622 527h1v12h-1zM623 521h1v6h-1zM624 517h1v4h-1zM625 519h1v4h-1zM626 523h1v2h-1zM627 523h1v1h-1zM628 522h1v21h-1zM629 543h1v2h-1zM630 544h1v1h-1zM631 543h1v4h-1zM632 547h1v6h-1zM633 553h1v5h-1zM634 558h1v3h-1zM635 553h1v5h-1zM636 548h1v5h-1zM637 544h1v4h-1zM638 542h1v2h-1zM639 544h1v3h-1zM640 547h1v4h-1zM641 551h1v5h-1zM642 556h1v8h-1zM642 579h1v10h-1zM643 564h1v20h-1zM644 572h1v5h-1zM645 577h1v8h-1zM646 582h1v8h-1zM647 568h1v14h-1zM648 544h1v40h-1zM649 584h1v39h-1zM650 572h1v34h-1zM651 555h1v17h-1zM652 559h1v3h-1zM653 553h1v6h-1zM654 550h1v3h-1zM655 551h1v2h-1zM656 553h1v2h-1zM657 555h1v2h-1zM658 557h1v4h-1zM659 561h1v6h-1zM660 567h1v9h-1zM661 576h1v20h-1zM662 596h1v37h-1zM663 619h1v9h-1zM664 614h1v6h-1zM665 620h1v8h-1zM666 620h1v10h-1zM667 593h1v27h-1zM668 576h1v17h-1zM669 580h1v8h-1zM670 588h1v8h-1zM671 587h1v13h-1zM672 575h1v12h-1zM673 579h1v24h-1zM674 603h1v22h-1zM675 585h1v26h-1zM676 572h1v14h-1zM677 586h1v34h-1zM678 620h1v23h-1zM679 643h1v3h-1zM680 646h1v3h-1zM681 649h1v4h-1zM682 653h1v2h-1zM683 655h1v1h-1zM684 656h1v2h-1zM685 658h1v1h-1zM686 659h1v1h-1zM687 659h1v1h-1zM688 659h1v1h-1zM689 659h1v1h-1zM690 658h1v1h-1zM691 658h1v1h-1zM692 656h1v2h-1zM693 653h1v3h-1zM694 651h1v2h-1zM695 650h1v1h-1zM696 649h1v1h-1zM697 650h1v1h-1zM698 651h1v1h-1zM699 652h1v1h-1zM700 653h1v2h-1zM701 650h1v6h-1zM702 644h1v11h-1zM703 655h1v1h-1zM704 653h1v4h-1zM705 649h1v6h-1zM706 655h1v5h-1zM707 656h1v2h-1zM708 652h1v4h-1zM709 648h1v4h-1zM710 639h1v9h-1zM711 629h1v10h-1zM712 615h1v14h-1zM713 615h1v1h-1zM714 614h1v3h-1zM715 617h1v4h-1zM716 621h1v4h-1zM717 625h1v2h-1zM718 627h1v1h-1zM719 628h1v2h-1zM720 630h1v4h-1zM721 634h1v3h-1zM722 637h1v3h-1zM723 640h1v3h-1zM724 643h1v4h-1zM725 647h1v2h-1zM726 648h1v1h-1zM727 649h1v6h-1zM728 655h1v7h-1zM729 662h1v2h-1zM730 664h1v3h-1zM731 667h1v2h-1zM732 669h1v1h-1zM733 669h1v2h-1zM734 667h1v2h-1zM735 664h1v3h-1zM736 663h1v2h-1zM737 665h1v3h-1zM738 668h1v3h-1zM739 671h1v2h-1zM740 673h1v2h-1zM741 674h1v1h-1zM742 674h1v1h-1zM743 675h1v1h-1zM744 675h1v1h-1zM745 675h1v1h-1zM746 675h1v1h-1zM747 675h1v1h-1zM748 675h1v1h-1zM749 675h1v1h-1zM750 674h1v1h-1zM751 674h1v1h-1zM752 674h1v1h-1zM753 674h1v1h-1zM754 674h1v1h-1zM755 674h1v1h-1zM756 673h1v1h-1zM757 673h1v1h-1zM758 672h1v1h-1zM759 673h1v1h-1zM760 674h1v1h-1zM761 675h1v1h-1zM762 676h1v1h-1zM763 676h1v1h-1zM764 676h1v1h-1zM765 676h1v1h-1zM766 677h1v1h-1zM767 677h1v1h-1zM768 677h1v1h-1zM769 677h1v1h-1zM770 678h1v1h-1zM771 678h1v1h-1zM772 678h1v1h-1zM773 679h1v1h-1zM774 679h1v1h-1zM775 679h1v1h-1zM776 679h1v1h-1zM777 679h1v1h-1zM778 680h1v1h-1zM779 680h1v1h-1zM780 680h1v1h-1zM781 680h1v1h-1z"/>
<path id="series-pv2" fill="#f0e442" d="M275 680h1v1h-1zM276 680h1v1h-1zM283 680h1v1h-1zM284 680h1v1h-1zM285 680h1v1h-1zM286 680h1v1h-1zM287 680h1v1h-1zM288 680h1v1h-1zM289 680h1v1h-1zM290 680h1v1h-1zM291 680h1v1h-1zM292 680h1v1h-1zM293 679h1v1h-1zM294 678h1v1h-1zM295 677h1v1h-1zM296 677h1v1h-1zM297 676h1v1h-1zM298 676h1v1h-1zM299 675h1v1h-1zM300 675h1v1h-1zM301 674h1v1h-1zM302 674h1v1h-1zM303 674h1v1h-1zM304 673h1v1h-1zM305 673h1v1h-1zM306 672h1v1h-1zM307 672h1v1h-1zM308 671h1v1h-1zM309 671h1v1h-1zM310 670h1v1h-1zM311 670h1v1h-1zM312 669h1v1h-1zM313 669h1v1h-1zM314 668h1v1h-1zM315 668h1v1h-1zM316 667h1v1h-1zM317 665h1v2h-1zM318 664h1v1h-1zM319 663h1v1h-1zM320 661h1v2h-1zM321 659h1v2h-1zM322 658h1v1h-1zM323 658h1v1h-1zM324 658h1v3h-1zM325 661h1v2h-1zM326 663h1v2h-1zM327 665h1v1h-1zM328 665h1v1h-1zM329 662h1v3h-1zM330 659h1v3h-1zM331 658h1v1h-1zM332 657h1v1h-1zM333 657h1v1h-1zM334 658h1v1h-1zM335 658h1v1h-1zM336 659h1v1h-1zM337 659h1v1h-1zM338 660h1v1h-1zM339 660h1v1h-1zM340 660h1v1h-1zM341 661h1v1h-1zM342 658h1v4h-1zM343 655h1v3h-1zM344 653h1v2h-1zM345 652h1v1h-1zM346 650h1v2h-1zM347 648h1v2h-1zM348 643h1v5h-1zM349 633h1v10h-1zM350 623h1v10h-1zM351 618h1v5h-1zM352 619h1v4h-1zM353 614h1v5h-1zM354 612h1v2h-1zM355 610h1v21h-1zM356 597h1v20h-1zM357 590h1v7h-1zM358 588h1v2h-1zM359 587h1v1h-1zM360 585h1v2h-1zM361 583h1v2h-1zM362 582h1v1h-1zM363 580h1v2h-1zM364 578h1v2h-1zM365 577h1v1h-1zM366 575h1v2h-1zM367 573h1v2h-1zM368 571h1v2h-1zM369 569h1v2h-1zM370 568h1v1h-1zM371 567h1v1h-1zM372 565h1v2h-1zM373 564h1v1h-1zM374 563h1v1h-1zM375 564h1v1h-1zM376 565h1v1h-1zM377 566h1v2h-1zM378 568h1v2h-1zM379 570h1v1h-1zM380 569h1v1h-1zM381 569h1v1h-1zM382 568h1v1h-1zM383 566h1v2h-1zM384 564h1v2h-1zM385 558h1v2h-1zM385 562h1v2h-1zM386 556h1v2h-1zM386 560h1v2h-1zM387 554h1v2h-1zM388 552h1v2h-1zM389 550h1v2h-1zM390 548h1v2h-1zM391 546h1v2h-1zM392 545h1v1h-1zM393 546h1v1h-1zM394 546h1v1h-1zM395 547h1v1h-1zM396 548h1v1h-1zM397 547h1v1h-1zM398 547h1v1h-1zM399 546h1v1h-1zM400 544h1v2h-1zM401 543h1v1h-1zM402 542h1v1h-1zM403 540h1v2h-1zM404 539h1v1h-1zM405 538h1v1h-1zM406 536h1v2h-1zM407 535h1v1h-1zM408 536h1v1h-1zM409 536h1v1h-1zM410 536h1v2h-1zM411 534h1v2h-1zM412 532h1v2h-1zM413 530h1v2h-1zM414 529h1v1h-1zM415 527h1v2h-1zM416 526h1v1h-1zM417 525h1v1h-1zM418 524h1v1h-1zM419 524h1v1h-1zM420 523h1v1h-1zM421 524h1v44h-1zM422 568h1v43h-1zM423 527h1v42h-1zM424 527h1v1h-1zM425 525h1v2h-1zM426 523h1v2h-1zM427 521h1v2h-1zM428 518h1v3h-1zM429 516h1v2h-1zM430 517h1v1h-1zM431 518h1v2h-1zM432 520h1v1h-1zM433 521h1v1h-1zM434 519h1v2h-1zM435 518h1v1h-1zM436 517h1v1h-1zM437 518h1v136h-1zM438 586h1v68h-1zM439 518h1v68h-1zM440 518h1v1h-1zM441 519h1v1h-1zM442 520h1v1h-1zM443 520h1v1h-1zM444 519h1v1h-1zM445 519h1v1h-1zM446 518h1v1h-1zM447 518h1v1h-1zM448 517h1v1h-1zM449 516h1v1h-1zM450 515h1v1h-1zM451 515h1v1h-1zM452 514h1v1h-1zM453 513h1v1h-1zM454 512h1v2h-1zM455 514h1v3h-1zM456 517h1v2h-1zM457 517h1v4h-1zM458 511h1v6h-1zM459 508h1v3h-1zM460 508h1v73h-1zM461 581h1v73h-1zM462 653h1v1h-1zM463 579h1v75h-1zM464 504h1v75h-1zM465 500h1v4h-1zM466 498h1v5h-1zM467 503h1v15h-1zM468 518h1v10h-1zM469 512h1v10h-1zM470 507h1v5h-1zM471 509h1v4h-1zM472 513h1v3h-1zM473 516h1v3h-1zM474 519h1v4h-1zM475 523h1v3h-1zM476 526h1v3h-1zM477 529h1v4h-1zM478 533h1v3h-1zM479 536h1v3h-1zM480 539h1v4h-1zM481 543h1v3h-1zM482 546h1v3h-1zM483 549h1v4h-1zM484 553h1v3h-1zM485 556h1v3h-1zM486 559h1v3h-1zM487 562h1v3h-1zM488 565h1v3h-1zM489 568h1v3h-1zM490 571h1v3h-1zM491 574h1v3h-1zM492 577h1v3h-1zM493 580h1v3h-1zM494 583h1v3h-1zM495 586h1v3h-1zM496 589h1v4h-1zM497 593h1v3h-1zM498 596h1v3h-1zM499 599h1v3h-1zM500 602h1v3h-1zM501 605h1v3h-1zM502 608h1v3h-1zM503 611h1v3h-1zM504 614h1v3h-1zM505 601h1v30h-1zM506 620h1v3h-1zM506 624h1v5h-1zM507 618h1v9h-1zM508 613h1v6h-1zM509 598h1v27h-1zM510 598h1v28h-1zM511 597h1v27h-1zM512 607h1v18h-1zM513 618h1v12h-1zM514 630h1v4h-1zM515 634h1v10h-1zM516 643h1v5h-1zM517 645h1v7h-1zM518 636h1v9h-1zM519 631h1v7h-1zM520 624h1v7h-1zM521 615h1v9h-1zM522 611h1v5h-1zM523 603h1v10h-1zM524 598h1v8h-1zM525 596h1v17h-1zM526 593h1v17h-1zM527 566h1v60h-1zM528 607h1v11h-1zM529 587h1v41h-1zM530 586h1v47h-1zM531 541h1v94h-1zM532 536h1v49h-1zM533 537h1v2h-1zM534 537h1v3h-1zM535 538h1v4h-1zM536 538h1v1h-1zM537 539h1v6h-1zM538 538h1v11h-1zM539 538h1v6h-1zM540 537h1v18h-1zM541 534h1v60h-1zM542 594h1v46h-1zM543 621h1v26h-1zM544 591h1v58h-1zM545 531h1v60h-1zM546 531h1v2h-1zM547 531h1v4h-1zM548 531h1v55h-1zM549 586h1v55h-1zM550 584h1v36h-1zM551 535h1v67h-1zM552 538h1v3h-1zM553 541h1v3h-1zM554 542h1v6h-1zM555 543h1v48h-1zM556 591h1v31h-1zM557 591h1v33h-1zM558 585h1v60h-1zM559 548h1v49h-1zM560 597h1v51h-1zM561 646h1v3h-1zM562 645h1v6h-1zM563 647h1v3h-1zM564 645h1v4h-1zM565 645h1v3h-1zM566 644h1v7h-1zM567 648h1v2h-1zM568 633h1v18h-1zM569 562h1v71h-1zM570 564h1v3h-1zM571 567h1v4h-1zM572 570h1v2h-1zM573 571h1v30h-1zM574 601h1v30h-1zM575 574h1v29h-1zM576 575h1v46h-1zM577 604h1v29h-1zM578 609h1v24h-1zM579 617h1v7h-1zM580 621h1v27h-1zM581 603h1v45h-1zM582 585h1v18h-1zM583 586h1v53h-1zM584 611h1v35h-1zM585 590h1v21h-1zM586 599h1v18h-1zM587 617h1v17h-1zM588 616h1v9h-1zM589 608h1v10h-1zM590 618h1v31h-1zM591 611h1v19h-1zM592 609h1v19h-1zM593 624h1v27h-1zM594 598h1v26h-1zM595 622h1v3h-1zM596 625h1v9h-1zM597 622h1v19h-1zM598 604h1v18h-1zM599 605h1v1h-1zM600 606h1v2h-1zM601 608h1v2h-1zM602 610h1v2h-1zM603 612h1v6h-1zM604 618h1v5h-1zM605 613h1v6h-1zM606 610h1v10h-1zM607 620h1v9h-1zM608 616h1v8h-1zM609 612h1v4h-1zM610 613h1v2h-1zM611 615h1v1h-1zM612 616h1v2h-1zM613 618h1v3h-1zM614 621h1v3h-1zM615 624h1v2h-1zM616 626h1v2h-1zM617 628h1v2h-1zM618 630h1v2h-1zM619 632h1v2h-1zM620 634h1v3h-1zM621 635h1v4h-1zM622 632h1v3h-1zM623 631h1v1h-1zM624 630h1v1h-1zM625 629h1v1h-1zM626 630h1v1h-1zM627 631h1v2h-1zM628 633h1v4h-1zM629 637h1v3h-1zM630 640h1v2h-1zM631 642h1v1h-1zM632 643h1v1h-1zM633 643h1v1h-1zM634 644h1v1h-1zM635 645h1v1h-1zM636 645h1v1h-1zM637 644h1v1h-1zM638 644h1v1h-1zM639 645h1v2h-1zM640 647h1v1h-1zM641 648h1v1h-1zM642 649h1v1h-1zM643 649h1v1h-1zM644 650h1v1h-1zM645 650h1v1h-1zM646 651h1v1h-1zM647 651h1v1h-1zM648 651h1v1h-1zM649 652h1v1h-1zM650 652h1v1h-1zM651 652h1v1h-1zM652 652h1v1h-1zM653 653h1v1h-1zM654 653h1v1h-1zM655 653h1v1h-1zM656 653h1v1h-1zM657 652h1v1h-1zM658 652h1v1h-1zM659 651h1v1h-1zM660 652h1v1h-1zM661 653h1v1h-1zM662 654h1v1h-1zM663 655h1v1h-1zM664 656h1v1h-1zM665 657h1v1h-1zM666 658h1v1h-1zM667 657h1v1h-1zM668 656h1v1h-1zM669 655h1v1h-1zM670 656h1v1h-1zM671 657h1v1h-1zM672 657h1v1h-1zM673 658h1v1h-1zM674 659h1v1h-1zM675 659h1v1h-1zM676 659h1v1h-1zM677 660h1v1h-1zM678 661h1v1h-1zM679 662h1v1h-1zM680 662h1v1h-1zM681 662h1v1h-1zM682 661h1v1h-1zM683 661h1v1h-1zM684 661h1v1h-1zM685 661h1v1h-1zM686 661h1v1h-1zM687 661h1v1h-1zM688 662h1v1h-1zM689 662h1v1h-1zM690 662h1v1h-1zM691 662h1v1h-1zM692 662h1v1h-1zM693 663h1v1h-1zM694 663h1v1h-1zM695 662h1v1h-1zM696 661h1v1h-1zM697 661h1v1h-1zM698 662h1v1h-1zM699 663h1v2h-1zM700 665h1v1h-1zM701 665h1v1h-1zM702 664h1v2h-1zM703 666h1v2h-1zM704 668h1v2h-1zM705 668h1v1h-1zM706 667h1v1h-1zM707 667h1v1h-1zM708 666h1v1h-1zM709 665h1v2h-1zM710 663h1v2h-1zM711 662h1v1h-1zM712 660h1v2h-1zM713 659h1v1h-1zM714 658h1v1h-1zM715 659h1v1h-1zM716 660h1v1h-1zM717 661h1v2h-1zM718 663h1v2h-1zM719 665h1v1h-1zM720 666h1v2h-1zM721 668h1v1h-1zM722 669h1v1h-1zM723 670h1v1h-1zM724 671h1v1h-1zM725 671h1v1h-1zM726 672h1v1h-1zM727 673h1v1h-1zM728 674h1v1h-1zM729 674h1v1h-1zM730 674h1v1h-1zM731 675h1v1h-1zM732 675h1v1h-1zM733 675h1v1h-1zM734 675h1v1h-1zM735 675h1v1h-1zM736 675h1v1h-1zM737 676h1v1h-1zM738 676h1v1h-1zM739 676h1v1h-1zM740 676h1v1h-1zM741 676h1v1h-1zM742 676h1v1h-1zM743 676h1v1h-1zM744 676h1v1h-1zM745 677h1v1h-1zM746 677h1v1h-1zM747 677h1v1h-1zM748 677h1v1h-1zM749 677h1v1h-1zM750 677h1v1h-1zM751 677h1v1h-1zM752 677h1v1h-1zM753 677h1v1h-1zM754 677h1v1h-1zM755 677h1v1h-1zM756 677h1v1h-1zM757 676h1v1h-1zM758 676h1v1h-1zM759 676h1v1h-1zM760 676h1v1h-1zM761 677h1v1h-1zM762 677h1v1h-1zM763 677h1v1h-1zM764 677h1v1h-1zM765 677h1v1h-1zM766 678h1v1h-1zM767 678h1v1h-1zM768 678h1v1h-1zM769 678h1v1h-1zM770 678h1v1h-1zM771 678h1v1h-1zM772 679h1v1h-1zM773 679h1v1h-1zM774 679h1v1h-1zM775 679h1v1h-1zM776 679h1v1h-1zM777 679h1v1h-1zM778 680h1v1h-1zM779 680h1v1h-1zM780 680h1v1h-1zM781 680h1v1h-1z"/>
<path id="series-en" fill="#0072b2" d="M776 361h85v1h-85zM751 362h25v1h-25zM738 363h13v1h-13zM733 364h5v1h-5zM728 365h5v1h-5zM723 366h5v1h-5zM719 367h4v1h-4zM716 368h3v1h-3zM713 369h3v1h-3zM710 370h3v1h-3zM707 371h3v1h-3zM703 372h4v1h-4zM698 373h5v1h-5zM693 374h5v1h-5zM688 375h5v1h-5zM682 376h6v1h-6zM678 377h4v1h-4zM676 378h2v1h-2zM674 379h2v1h-2zM672 380h2v1h-2zM670 381h2v1h-2zM668 382h2v1h-2zM666 383h2v1h-2zM665 384h1v1h-1zM663 385h2v1h-2zM661 386h2v1h-2zM660 387h1v1h-1zM659 388h1v1h-1zM657 389h2v1h-2zM656 390h1v1h-1zM655 391h1v1h-1zM654 392h1v1h-1zM652 393h2v1h-2zM651 394h1v1h-1zM650 395h1v1h-1zM648 396h2v1h-2zM646 397h2v1h-2zM645 398h1v1h-1zM643 399h2v1h-2zM641 400h2v1h-2zM640 401h1v1h-1zM639 402h1v1h-1zM638 403h1v1h-1zM637 404h1v1h-1zM636 405h1v1h-1zM634 406h2v1h-2zM633 407h1v1h-1zM632 408h1v1h-1zM631 409h1v1h-1zM630 410h1v1h-1zM629 411h1v1h-1zM628 412h1v1h-1zM627 413h1v1h-1zM626 414h1v1h-1zM625 415h1v1h-1zM623 416h2v1h-2zM622 417h1v1h-1zM621 418h1v1h-1zM620 419h1v1h-1zM619 420h1v1h-1zM618 421h1v1h-1zM617 422h1v1h-1zM616 423h1v1h-1zM615 424h1v1h-1zM614 425h1v1h-1zM613 426h1v1h-1zM611 427h2v1h-2zM610 428h1v1h-1zM609 429h1v1h-1zM608 430h1v1h-1zM607 431h1v1h-1zM606 432h1v1h-1zM605 433h1v1h-1zM604 434h1v1h-1zM603 435h1v1h-1zM603 436h1v1h-1zM602 437h1v1h-1zM601 438h1v1h-1zM600 439h1v1h-1zM598 440h2v1h-2zM596 441h2v1h-2zM595 442h1v1h-1zM593 443h2v1h-2zM592 444h1v1h-1zM590 445h2v1h-2zM588 446h2v1h-2zM587 447h1v1h-1zM586 448h1v1h-1zM585 449h1v1h-1zM584 450h1v1h-1zM583 451h1v1h-1zM582 452h1v1h-1zM581 453h1v1h-1zM581 454h1v1h-1zM580 455h1v1h-1zM579 456h1v1h-1zM578 457h1v1h-1zM577 458h1v1h-1zM576 459h1v1h-1zM575 460h1v1h-1zM574 461h1v1h-1zM573 462h1v1h-1zM572 463h1v1h-1zM571 464h1v1h-1zM571 465h1v1h-1zM570 466h1v1h-1zM569 467h1v1h-1zM568 468h1v1h-1zM566 469h2v1h-2zM564 470h2v1h-2zM562 471h2v1h-2zM560 472h2v1h-2zM558 473h2v1h-2zM556 474h2v1h-2zM555 475h1v1h-1zM554 476h1v1h-1zM554 477h1v1h-1zM553 478h1v1h-1zM552 479h1v1h-1zM551 480h1v1h-1zM551 481h1v1h-1zM550 482h1v1h-1zM549 483h1v1h-1zM549 484h1v1h-1zM548 485h1v1h-1zM548 486h1v1h-1zM547 487h1v1h-1zM546 488h1v1h-1zM546 489h1v1h-1zM545 490h1v1h-1zM545 491h1v1h-1zM544 492h1v1h-1zM543 493h1v1h-1zM542 494h1v1h-1zM542 495h1v1h-1zM541 496h1v1h-1zM540 497h1v1h-1zM539 498h1v1h-1zM538 499h1v1h-1zM538 500h1v1h-1zM537 501h1v1h-1zM536 502h1v1h-1zM535 503h1v1h-1zM535 504h1v1h-1zM534 505h1v1h-1zM534 506h1v1h-1zM533 507h1v1h-1zM532 508h1v1h-1zM532 509h1v1h-1zM531 510h1v1h-1zM531 511h1v1h-1zM530 512h1v1h-1zM529 513h1v1h-1zM527 514h2v1h-2zM526 515h1v1h-1zM525 516h1v1h-1zM524 517h1v1h-1zM522 518h2v1h-2zM521 519h1v1h-1zM519 520h2v1h-2zM517 521h2v1h-2zM515 522h2v1h-2zM513 523h2v1h-2zM511 524h2v1h-2zM510 525h1v1h-1zM509 526h1v1h-1zM508 527h1v1h-1zM507 528h1v1h-1zM506 529h1v1h-1zM505 530h1v1h-1zM505 531h1v1h-1zM504 532h1v1h-1zM503 533h1v1h-1zM502 534h1v1h-1zM501 535h1v1h-1zM500 536h1v1h-1zM499 537h1v1h-1zM498 538h1v1h-1zM498 539h1v1h-1zM497 540h1v1h-1zM496 541h1v1h-1zM495 542h1v1h-1zM494 543h1v1h-1zM494 544h1v1h-1zM493 545h1v1h-1zM492 546h1v1h-1zM491 547h1v1h-1zM490 548h1v1h-1zM490 549h1v1h-1zM489 550h1v1h-1zM488 551h1v1h-1zM487 552h1v1h-1zM487 553h1v1h-1zM486 554h1v1h-1zM485 555h1v1h-1zM484 556h1v1h-1zM482 557h2v1h-2zM481 558h1v1h-1zM480 559h1v1h-1zM479 560h1v1h-1zM478 561h1v1h-1zM477 562h1v1h-1zM477 563h1v1h-1zM476 564h1v1h-1zM475 565h1v1h-1zM474 566h1v1h-1zM473 567h1v1h-1zM472 568h1v1h-1zM472 569h1v1h-1zM471 570h1v1h-1zM470 571h1v1h-1zM469 572h1v1h-1zM469 573h1v1h-1zM468 574h1v1h-1zM467 575h1v1h-1zM466 576h1v1h-1zM466 577h1v1h-1zM465 578h1v1h-1zM464 579h1v1h-1zM463 580h1v1h-1zM463 581h1v1h-1zM462 582h1v1h-1zM461 583h1v1h-1zM460 584h1v1h-1zM459 585h1v1h-1zM458 586h1v1h-1zM458 587h1v1h-1zM457 588h1v1h-1zM456 589h1v1h-1zM455 590h1v1h-1zM454 591h1v1h-1zM453 592h1v1h-1zM452 593h1v1h-1zM452 594h1v1h-1zM451 595h1v1h-1zM450 596h1v1h-1zM449 597h1v1h-1zM448 598h1v1h-1zM447 599h1v1h-1zM447 600h1v1h-1zM446 601h1v1h-1zM445 602h1v1h-1zM444 603h1v1h-1zM443 604h1v1h-1zM441 605h2v1h-2zM440 606h1v1h-1zM439 607h1v1h-1zM438 608h1v1h-1zM437 609h1v1h-1zM436 610h1v1h-1zM435 611h1v1h-1zM434 612h1v1h-1zM434 613h1v1h-1zM433 614h1v1h-1zM432 615h1v1h-1zM431 616h1v1h-1zM430 617h1v1h-1zM429 618h1v1h-1zM428 619h1v1h-1zM427 620h1v1h-1zM425 621h2v1h-2zM424 622h1v1h-1zM423 623h1v1h-1zM422 624h1v1h-1zM421 625h1v1h-1zM420 626h1v1h-1zM419 627h1v1h-1zM417 628h2v1h-2zM416 629h1v1h-1zM415 630h1v1h-1zM414 631h1v1h-1zM413 632h1v1h-1zM412 633h1v1h-1zM411 634h1v1h-1zM410 635h1v1h-1zM409 636h1v1h-1zM407 637h2v1h-2zM406 638h1v1h-1zM405 639h1v1h-1zM404 640h1v1h-1zM403 641h1v1h-1zM402 642h1v1h-1zM400 643h2v1h-2zM399 644h1v1h-1zM397 645h2v1h-2zM396 646h1v1h-1zM394 647h2v1h-2zM392 648h2v1h-2zM391 649h1v1h-1zM389 650h2v1h-2zM388 651h1v1h-1zM386 652h2v1h-2zM385 653h1v1h-1zM383 654h2v1h-2zM382 655h1v1h-1zM381 656h1v1h-1zM379 657h2v1h-2zM378 658h1v1h-1zM376 659h2v1h-2zM375 660h1v1h-1zM373 661h2v1h-2zM371 662h2v1h-2zM369 663h2v1h-2zM368 664h1v1h-1zM366 665h2v1h-2zM365 666h1v1h-1zM364 667h1v1h-1zM362 668h2v1h-2zM361 669h1v1h-1zM359 670h2v1h-2zM357 671h2v1h-2zM355 672h2v1h-2zM352 673h3v1h-3zM347 674h5v1h-5zM339 675h8v1h-8zM331 676h8v1h-8zM323 677h8v1h-8zM313 678h10v1h-10zM306 679h7v1h-7zM132 680h106v1h-106zM292 680h14v1h-14z"/>
<path id="key-ac" fill="#9400d3" d="M314 74h48v1h-48z"/>
<path id="key-pin" fill="#009e73" d="M314 93h48v1h-48z"/>
<path id="key-pout" fill="#56b4e9" d="M314 112h48v1h-48z"/>
<path id="key-pv1" fill="#e69f00" d="M314 131h48v1h-48z"/>
<path id="key-pv2" fill="#f0e442" d="M314 150h48v1h-48z"/>
<path id="key-en" fill="#0072b2" d="M314 169h48v1h-48z"/>
<path id="axes" fill="#000" d="M94 57h767v1h-767zM94 58h1v1h-1zM126 58h1v1h-1zM158 58h1v1h-1zM190 58h1v1h-1zM222 58h1v1h-1zM254 58h1v1h-1zM286 58h1v1h-1zM318 58h1v1h-1zM350 58h1v1h-1zM381 58h1v1h-1zM413 58h1v1h-1zM445 58h1v1h-1zM477 58h1v1h-1zM509 58h1v1h-1zM541 58h1v1h-1zM573 58h1v1h-1zM605 58h1v1h-1zM637 58h1v1h-1zM669 58h1v1h-1zM701 58h1v1h-1zM733 58h1v1h-1zM765 58h1v1h-1zM797 58h1v1h-1zM829 58h1v1h-1zM860 58h1v1h-1zM94 59h1v1h-1zM126 59h1v1h-1zM158 59h1v1h-1zM190 59h1v1h-1zM222 59h1v1h-1zM254 59h1v1h-1zM286 59h1v1h-1zM318 59h1v1h-1zM350 59h1v1h-1zM381 59h1v1h-1zM413 59h1v1h-1zM445 59h1v1h-1zM477 59h1v1h-1zM509 59h1v1h-1zM541 59h1v1h-1zM573 59h1v1h-1zM605 59h1v1h-1zM637 59h1v1h-1zM669 59h1v1h-1zM701 59h1v1h-1zM733 59h1v1h-1zM765 59h1v1h-1zM797 59h1v1h-1zM829 59h1v1h-1zM860 59h1v1h-1zM94 60h1v1h-1zM126 60h1v1h-1zM158 60h1v1h-1zM190 60h1v1h-1zM222 60h1v1h-1zM254 60h1v1h-1zM286 60h1v1h-1zM318 60h1v1h-1zM350 60h1v1h-1zM381 60h1v1h-1zM413 60h1v1h-1zM445 60h1v1h-1zM477 60h1v1h-1zM509 60h1v1h-1zM541 60h1v1h-1zM573 60h1v1h-1zM605 60h1v1h-1zM637 60h1v1h-1zM669 60h1v1h-1zM701 60h1v1h-1zM733 60h1v1h-1zM765 60h1v1h-1zM797 60h1v1h-1zM829 60h1v1h-1zM860 60h1v1h-1zM94 61h1v1h-1zM158 61h1v1h-1zM222 61h1v1h-1zM286 61h1v1h-1zM350 61h1v1h-1zM413 61h1v1h-1zM477 61h1v1h-1zM541 61h1v1h-1zM605 61h1v1h-1zM669 61h1v1h-1zM733 61h1v1h-1zM797 61h1v1h-1zM860 61h1v1h-1zM94 62h1v1h-1zM158 62h1v1h-1zM222 62h1v1h-1zM286 62h1v1h-1zM350 62h1v1h-1zM413 62h1v1h-1zM477 62h1v1h-1zM541 62h1v1h-1zM605 62h1v1h-1zM669 62h1v1h-1zM733 62h1v1h-1zM797 62h1v1h-1zM860 62h1v1h-1zM94 63h1v1h-1zM158 63h1v1h-1zM222 63h1v1h-1zM286 63h1v1h-1zM350 63h1v1h-1zM413 63h1v1h-1zM477 63h1v1h-1zM541 63h1v1h-1zM605 63h1v1h-1zM669 63h1v1h-1zM733 63h1v1h-1zM797 63h1v1h-1zM860 63h1v1h-1zM94 64h1v1h-1zM158 64h1v1h-1zM222 64h1v1h-1zM286 64h1v1h-1zM350 64h1v1h-1zM413 64h1v1h-1zM477 64h1v1h-1zM541 64h1v1h-1zM605 64h1v1h-1zM669 64h1v1h-1zM733 64h1v1h-1zM797 64h1v1h-1zM860 64h1v1h-1zM94 65h1v1h-1zM860 65h1v1h-1zM94 66h1v1h-1zM860 66h1v1h-1zM94 67h1v1h-1zM860 67h1v1h-1zM94 68h1v1h-1zM860 68h1v1h-1zM94 69h1v1h-1zM860 69h1v1h-1zM94 70h1v1h-1zM860 70h1v1h-1zM94 71h1v1h-1zM860 71h1v1h-1zM94 72h1v1h-1zM860 72h1v1h-1zM94 73h1v1h-1zM860 73h1v1h-1zM94 74h1v1h-1zM860 74h1v1h-1zM94 75h1v1h-1zM860 75h1v1h-1zM94 76h1v1h-1zM860 76h1v1h-1zM94 77h1v1h-1zM860 77h1v1h-1zM94 78h1v1h-1zM860 78h1v1h-1zM94 79h1v1h-1zM860 79h1v1h-1zM94 80h1v1h-1zM860 80h1v1h-1zM94 81h1v1h-1zM860 81h1v1h-1zM94 82h1v1h-1zM860 82h1v1h-1zM94 83h8v1h-8zM853 83h8v1h-8zM94 84h1v1h-1zM860 84h1v1h-1zM94 85h1v1h-1zM860 85h1v1h-1zM94 86h1v1h-1zM860 86h1v1h-1zM94 87h1v1h-1zM860 87h1v1h-1zM94 88h1v1h-1zM860 88h1v1h-1zM94 89h1v1h-1zM860 89h1v1h-1zM94 90h1v1h-1zM860 90h1v1h-1zM94 91h1v1h-1zM860 91h1v1h-1zM94 92h1v1h-1zM860 92h1v1h-1zM94 93h1v1h-1zM860 93h1v1h-1zM94 94h1v1h-1zM860 94h1v1h-1zM94 95h1v1h-1zM860 95h1v1h-1zM94 96h1v1h-1zM860 96h1v1h-1zM94 97h1v1h-1zM860 97h1v1h-1zM94 98h1v1h-1zM860 98h1v1h-1zM94 99h1v1h-1zM860 99h1v1h-1zM94 100h1v1h-1zM860 100h1v1h-1zM94 101h1v1h-1zM860 101h1v1h-1zM94 102h1v1h-1zM860 102h1v1h-1zM94 103h1v1h-1zM860 103h1v1h-1zM94 104h1v1h-1zM860 104h1v1h-1zM94 105h1v1h-1zM860 105h1v1h-1zM94 106h1v1h-1zM860 106h1v1h-1zM94 107h1v1h-1zM860 107h1v1h-1zM94 108h1v1h-1zM860 108h1v1h-1zM94 109h1v1h-1zM860 109h1v1h-1zM94 110h1v1h-1zM860 110h1v1h-1zM94 111h1v1h-1zM860 111h1v1h-1zM94 112h1v1h-1zM860 112h1v1h-1zM94 113h1v1h-1zM860 113h1v1h-1zM94 114h1v1h-1zM860 114h1v1h-1zM94 115h1v1h-1zM860 115h1v1h-1zM94 116h1v1h-1zM860 116h1v1h-1zM94 117h1v1h-1zM860 117h1v1h-1zM94 118h1v1h-1zM860 118h1v1h-1zM94 119h1v1h-1zM860 119h1v1h-1zM94 120h1v1h-1zM860 120h1v1h-1zM94 121h1v1h-1zM860 121h1v1h-1zM94 122h1v1h-1zM860 122h1v1h-1zM94 123h1v1h-1zM860 123h1v1h-1zM94 124h1v1h-1zM860 124h1v1h-1zM94 125h1v1h-1zM860 125h1v1h-1zM94 126h1v1h-1zM853 126h8v1h-8zM94 127h1v1h-1zM860 127h1v1h-1zM94 128h1v1h-1zM860 128h1v1h-1zM94 129h1v1h-1zM860 129h1v1h-1zM94 130h1v1h-1zM860 130h1v1h-1zM94 131h1v1h-1zM860 131h1v1h-1zM94 132h1v1h-1zM860 132h1v1h-1zM94 133h1v1h-1zM860 133h1v1h-1zM94 134h1v1h-1zM860 134h1v1h-1zM94 135h1v1h-1zM860 135h1v1h-1zM94 136h1v1h-1zM860 136h1v1h-1zM94 137h1v1h-1zM860 137h1v1h-1zM94 138h1v1h-1zM860 138h1v1h-1zM94 139h1v1h-1zM860 139h1v1h-1zM94 140h1v1h-1zM860 140h1v1h-1zM94 141h1v1h-1zM860 141h1v1h-1zM94 142h1v1h-1zM860 142h1v1h-1zM94 143h1v1h-1zM860 143h1v1h-1zM94 144h1v1h-1zM860 144h1v1h-1zM94 145h1v1h-1zM860 145h1v1h-1zM94 146h1v1h-1zM860 146h1v1h-1zM94 147h1v1h-1zM860 147h1v1h-1zM94 148h1v1h-1zM860 148h1v1h-1zM94 149h1v1h-1zM860 149h1v1h-1zM94 150h1v1h-1zM860 150h1v1h-1zM94 151h1v1h-1zM860 151h1v1h-1zM94 152h1v1h-1zM860 152h1v1h-1zM94 153h1v1h-1zM860 153h1v1h-1zM94 154h1v1h-1zM860 154h1v1h-1zM94 155h1v1h-1zM860 155h1v1h-1zM94 156h1v1h-1zM860 156h1v1h-1zM94 157h1v1h-1zM860 157h1v1h-1zM94 158h1v1h-1zM860 158h1v1h-1zM94 159h1v1h-1zM860 159h1v1h-1zM94 160h1v1h-1zM860 160h1v1h-1zM94 161h1v1h-1zM860 161h1v1h-1zM94 162h1v1h-1zM860 162h1v1h-1zM94 163h1v1h-1zM860 163h1v1h-1zM94 164h1v1h-1zM860 164h1v1h-1zM94 165h1v1h-1zM860 165h1v1h-1zM94 166h1v1h-1zM860 166h1v1h-1zM94 167h1v1h-1zM860 167h1v1h-1zM94 168h8v1h-8zM853 168h8v1h-8zM94 169h1v1h-1zM860 169h1v1h-1zM94 170h1v1h-1zM860 170h1v1h-1zM94 171h1v1h-1zM860 171h1v1h-1zM94 172h1v1h-1zM860 172h1v1h-1zM94 173h1v1h-1zM860 173h1v1h-1zM94 174h1v1h-1zM860 174h1v1h-1zM94 175h1v1h-1zM860 175h1v1h-1zM94 176h1v1h-1zM860 176h1v1h-1zM94 177h1v1h-1zM860 177h1v1h-1zM94 178h1v1h-1zM860 178h1v1h-1zM94 179h1v1h-1zM860 179h1v1h-1zM94 180h1v1h-1zM860 180h1v1h-1zM94 181h1v1h-1zM860 181h1v1h-1zM94 182h1v1h-1zM860 182h1v1h-1zM94 183h1v1h-1zM860 183h1v1h-1zM94 184h1v1h-1zM860 184h1v1h-1zM94 185h1v1h-1zM860 185h1v1h-1zM94 186h1v1h-1zM860 186h1v1h-1zM94 187h1v1h-1zM860 187h1v1h-1zM94 188h1v1h-1zM860 188h1v1h-1zM94 189h1v1h-1zM860 189h1v1h-1zM94 190h1v1h-1zM860 190h1v1h-1zM94 191h1v1h-1zM860 191h1v1h-1zM94 192h1v1h-1zM860 192h1v1h-1zM94 193h1v1h-1zM860 193h1v1h-1zM94 194h1v1h-1zM860 194h1v1h-1zM94 195h1v1h-1zM860 195h1v1h-1zM94 196h1v1h-1zM853 196h8v1h-8zM94 197h1v1h-1zM860 197h1v1h-1zM94 198h1v1h-1zM860 198h1v1h-1zM94 199h1v1h-1zM860 199h1v1h-1zM94 200h1v1h-1zM860 200h1v1h-1zM94 201h1v1h-1zM860 201h1v1h-1zM94 202h1v1h-1zM860 202h1v1h-1zM94 203h1v1h-1zM860 203h1v1h-1zM94 204h1v1h-1zM860 204h1v1h-1zM94 205h1v1h-1zM860 205h1v1h-1zM94 206h1v1h-1zM860 206h1v1h-1zM94 207h1v1h-1zM860 207h1v1h-1zM94 208h1v1h-1zM860 208h1v1h-1zM94 209h1v1h-1zM860 209h1v1h-1zM94 210h1v1h-1zM860 210h1v1h-1zM94 211h1v1h-1zM860 211h1v1h-1zM94 212h1v1h-1zM860 212h1v1h-1zM94 213h1v1h-1zM860 213h1v1h-1zM94 214h1v1h-1zM860 214h1v1h-1zM94 215h1v1h-1zM860 215h1v1h-1zM94 216h1v1h-1zM860 216h1v1h-1zM94 217h1v1h-1zM860 217h1v1h-1zM94 218h1v1h-1zM860 218h1v1h-1zM94 219h1v1h-1zM860 219h1v1h-1zM94 220h1v1h-1zM860 220h1v1h-1zM94 221h1v1h-1zM860 221h1v1h-1zM94 222h1v1h-1zM860 222h1v1h-1zM94 223h1v1h-1zM860 223h1v1h-1zM94 224h1v1h-1zM860 224h1v1h-1zM94 225h1v1h-1zM860 225h1v1h-1zM94 226h1v1h-1zM860 226h1v1h-1zM94 227h1v1h-1zM860 227h1v1h-1zM94 228h1v1h-1zM860 228h1v1h-1zM94 229h1v1h-1zM860 229h1v1h-1zM94 230h1v1h-1zM860 230h1v1h-1zM94 231h1v1h-1zM860 231h1v1h-1zM94 232h1v1h-1zM860 232h1v1h-1zM94 233h1v1h-1zM860 233h1v1h-1zM94 234h1v1h-1zM860 234h1v1h-1zM94 235h1v1h-1zM860 235h1v1h-1zM94 236h1v1h-1zM860 236h1v1h-1zM94 237h1v1h-1zM860 237h1v1h-1zM94 238h1v1h-1zM860 238h1v1h-1zM94 239h1v1h-1zM860 239h1v1h-1zM94 240h1v1h-1zM860 240h1v1h-1zM94 241h1v1h-1zM860 241h1v1h-1zM94 242h1v1h-1zM860 242h1v1h-1zM94 243h1v1h-1zM860 243h1v1h-1zM94 244h1v1h-1zM860 244h1v1h-1zM94 245h1v1h-1zM860 245h1v1h-1zM94 246h1v1h-1zM860 246h1v1h-1zM94 247h1v1h-1zM860 247h1v1h-1zM94 248h1v1h-1zM860 248h1v1h-1zM94 249h1v1h-1zM860 249h1v1h-1zM94 250h1v1h-1zM860 250h1v1h-1zM94 251h1v1h-1zM860 251h1v1h-1zM94 252h1v1h-1zM860 252h1v1h-1zM94 253h1v1h-1zM860 253h1v1h-1zM94 254h8v1h-8zM853 254h8v1h-8zM94 255h1v1h-1zM860 255h1v1h-1zM94 256h1v1h-1zM860 256h1v1h-1zM94 257h1v1h-1zM860 257h1v1h-1zM94 258h1v1h-1zM860 258h1v1h-1zM94 259h1v1h-1zM860 259h1v1h-1zM94 260h1v1h-1zM860 260h1v1h-1zM94 261h1v1h-1zM860 261h1v1h-1zM94 262h1v1h-1zM860 262h1v1h-1zM94 263h1v1h-1zM860 263h1v1h-1zM94 264h1v1h-1zM860 264h1v1h-1zM94 265h1v1h-1zM853 265h8v1h-8zM94 266h1v1h-1zM860 266h1v1h-1zM94 267h1v1h-1zM860 267h1v1h-1zM94 268h1v1h-1zM860 268h1v1h-1zM94 269h1v1h-1zM860 269h1v1h-1zM94 270h1v1h-1zM860 270h1v1h-1zM94 271h1v1h-1zM860 271h1v1h-1zM94 272h1v1h-1zM860 272h1v1h-1zM94 273h1v1h-1zM860 273h1v1h-1zM94 274h1v1h-1zM860 274h1v1h-1zM94 275h1v1h-1zM860 275h1v1h-1zM94 276h1v1h-1zM860 276h1v1h-1zM94 277h1v1h-1zM860 277h1v1h-1zM94 278h1v1h-1zM860 278h1v1h-1zM94 279h1v1h-1zM860 279h1v1h-1zM94 280h1v1h-1zM860 280h1v1h-1zM94 281h1v1h-1zM860 281h1v1h-1zM94 282h1v1h-1zM860 282h1v1h-1zM94 283h1v1h-1zM860 283h1v1h-1zM94 284h1v1h-1zM860 284h1v1h-1zM94 285h1v1h-1zM860 285h1v1h-1zM94 286h1v1h-1zM860 286h1v1h-1zM94 287h1v1h-1zM860 287h1v1h-1zM94 288h1v1h-1zM860 288h1v1h-1zM94 289h1v1h-1zM860 289h1v1h-1zM94 290h1v1h-1zM860 290h1v1h-1zM94 291h1v1h-1zM860 291h1v1h-1zM94 292h1v1h-1zM860 292h1v1h-1zM94 293h1v1h-1zM860 293h1v1h-1zM94 294h1v1h-1zM860 294h1v1h-1zM94 295h1v1h-1zM860 295h1v1h-1zM94 296h1v1h-1zM860 296h1v1h-1zM94 297h1v1h-1zM860 297h1v1h-1zM94 298h1v1h-1zM860 298h1v1h-1zM94 299h1v1h-1zM860 299h1v1h-1zM94 300h1v1h-1zM860 300h1v1h-1zM94 301h1v1h-1zM860 301h1v1h-1zM94 302h1v1h-1zM860 302h1v1h-1zM94 303h1v1h-1zM860 303h1v1h-1zM94 304h1v1h-1zM860 304h1v1h-1zM94 305h1v1h-1zM860 305h1v1h-1zM94 306h1v1h-1zM860 306h1v1h-1zM94 307h1v1h-1zM860 307h1v1h-1zM94 308h1v1h-1zM860 308h1v1h-1zM94 309h1v1h-1zM860 309h1v1h-1zM94 310h1v1h-1zM860 310h1v1h-1zM94 311h1v1h-1zM860 311h1v1h-1zM94 312h1v1h-1zM860 312h1v1h-1zM94 313h1v1h-1zM860 313h1v1h-1zM94 314h1v1h-1zM860 314h1v1h-1zM94 315h1v1h-1zM860 315h1v1h-1zM94 316h1v1h-1zM860 316h1v1h-1zM94 317h1v1h-1zM860 317h1v1h-1zM94 318h1v1h-1zM860 318h1v1h-1zM94 319h1v1h-1zM860 319h1v1h-1zM94 320h1v1h-1zM860 320h1v1h-1zM94 321h1v1h-1zM860 321h1v1h-1zM94 322h1v1h-1zM860 322h1v1h-1zM94 323h1v1h-1zM860 323h1v1h-1zM94 324h1v1h-1zM860 324h1v1h-1zM94 325h1v1h-1zM860 325h1v1h-1zM94 326h1v1h-1zM860 326h1v1h-1zM94 327h1v1h-1zM860 327h1v1h-1zM94 328h1v1h-1zM860 328h1v1h-1zM94 329h1v1h-1zM860 329h1v1h-1zM94 330h1v1h-1zM860 330h1v1h-1zM94 331h1v1h-1zM860 331h1v1h-1zM94 332h1v1h-1zM860 332h1v1h-1zM94 333h1v1h-1zM860 333h1v1h-1zM94 334h1v1h-1zM853 334h8v1h-8zM94 335h1v1h-1zM860 335h1v1h-1zM94 336h1v1h-1zM860 336h1v1h-1zM94 337h1v1h-1zM860 337h1v1h-1zM94 338h1v1h-1zM860 338h1v1h-1zM94 339h8v1h-8zM853 339h8v1h-8zM94 340h1v1h-1zM860 340h1v1h-1zM94 341h1v1h-1zM860 341h1v1h-1zM94 342h1v1h-1zM860 342h1v1h-1zM94 343h1v1h-1zM860 343h1v1h-1zM94 344h1v1h-1zM860 344h1v1h-1zM94 345h1v1h-1zM860 345h1v1h-1zM94 346h1v1h-1zM860 346h1v1h-1zM94 347h1v1h-1zM860 347h1v1h-1zM94 348h1v1h-1zM860 348h1v1h-1zM94 349h1v1h-1zM860 349h1v1h-1zM94 350h1v1h-1zM860 350h1v1h-1zM94 351h1v1h-1zM860 351h1v1h-1zM94 352h1v1h-1zM860 352h1v1h-1zM94 353h1v1h-1zM860 353h1v1h-1zM94 354h1v1h-1zM860 354h1v1h-1zM94 355h1v1h-1zM860 355h1v1h-1zM94 356h1v1h-1zM860 356h1v1h-1zM94 357h1v1h-1zM860 357h1v1h-1zM94 358h1v1h-1zM860 358h1v1h-1zM94 359h1v1h-1zM860 359h1v1h-1zM94 360h1v1h-1zM860 360h1v1h-1zM94 361h1v1h-1zM860 361h1v1h-1zM94 362h1v1h-1zM860 362h1v1h-1zM94 363h1v1h-1zM860 363h1v1h-1zM94 364h1v1h-1zM860 364h1v1h-1zM94 365h1v1h-1zM860 365h1v1h-1zM94 366h1v1h-1zM860 366h1v1h-1zM94 367h1v1h-1zM860 367h1v1h-1zM94 368h1v1h-1zM860 368h1v1h-1zM94 369h1v1h-1zM860 369h1v1h-1zM94 370h1v1h-1zM860 370h1v1h-1zM94 371h1v1h-1zM860 371h1v1h-1zM94 372h1v1h-1zM860 372h1v1h-1zM94 373h1v1h-1zM860 373h1v1h-1zM94 374h1v1h-1zM860 374h1v1h-1zM94 375h1v1h-1zM860 375h1v1h-1zM94 376h1v1h-1zM860 376h1v1h-1zM94 377h1v1h-1zM860 377h1v1h-1zM94 378h1v1h-1zM860 378h1v1h-1zM94 379h1v1h-1zM860 379h1v1h-1zM94 380h1v1h-1zM860 380h1v1h-1zM94 381h1v1h-1zM860 381h1v1h-1zM94 382h1v1h-1zM860 382h1v1h-1zM94 383h1v1h-1zM860 383h1v1h-1zM94 384h1v1h-1zM860 384h1v1h-1zM94 385h1v1h-1zM860 385h1v1h-1zM94 386h1v1h-1zM860 386h1v1h-1zM94 387h1v1h-1zM860 387h1v1h-1zM94 388h1v1h-1zM860 388h1v1h-1zM94 389h1v1h-1zM860 389h1v1h-1zM94 390h1v1h-1zM860 390h1v1h-1zM94 391h1v1h-1zM860 391h1v1h-1zM94 392h1v1h-1zM860 392h1v1h-1zM94 393h1v1h-1zM860 393h1v1h-1zM94 394h1v1h-1zM860 394h1v1h-1zM94 395h1v1h-1zM860 395h1v1h-1zM94 396h1v1h-1zM860 396h1v1h-1zM94 397h1v1h-1zM860 397h1v1h-1zM94 398h1v1h-1zM860 398h1v1h-1zM94 399h1v1h-1zM860 399h1v1h-1zM94 400h1v1h-1zM860 400h1v1h-1zM94 401h1v1h-1zM860 401h1v1h-1zM94 402h1v1h-1zM860 402h1v1h-1zM94 403h1v1h-1zM860 403h1v1h-1zM94 404h1v1h-1zM853 404h8v1h-8zM94 405h1v1h-1zM860 405h1v1h-1zM94 406h1v1h-1zM860 406h1v1h-1zM94 407h1v1h-1zM860 407h1v1h-1zM94 408h1v1h-1zM860 408h1v1h-1zM94 409h1v1h-1zM860 409h1v1h-1zM94 410h1v1h-1zM860 410h1v1h-1zM94 411h1v1h-1zM860 411h1v1h-1zM94 412h1v1h-1zM860 412h1v1h-1zM94 413h1v1h-1zM860 413h1v1h-1zM94 414h1v1h-1zM860 414h1v1h-1zM94 415h1v1h-1zM860 415h1v1h-1zM94 416h1v1h-1zM860 416h1v1h-1zM94 417h1v1h-1zM860 417h1v1h-1zM94 418h1v1h-1zM860 418h1v1h-1zM94 419h1v1h-1zM860 419h1v1h-1zM94 420h1v1h-1zM860 420h1v1h-1zM94 421h1v1h-1zM860 421h1v1h-1zM94 422h1v1h-1zM860 422h1v1h-1zM94 423h1v1h-1zM860 423h1v1h-1zM94 424h1v1h-1zM860 424h1v1h-1zM94 425h8v1h-8zM853 425h8v1h-8zM94 426h1v1h-1zM860 426h1v1h-1zM94 427h1v1h-1zM860 427h1v1h-1zM94 428h1v1h-1zM860 428h1v1h-1zM94 429h1v1h-1zM860 429h1v1h-1zM94 430h1v1h-1zM860 430h1v1h-1zM94 431h1v1h-1zM860 431h1v1h-1zM94 432h1v1h-1zM860 432h1v1h-1zM94 433h1v1h-1zM860 433h1v1h-1zM94 434h1v1h-1zM860 434h1v1h-1zM94 435h1v1h-1zM860 435h1v1h-1zM94 436h1v1h-1zM860 436h1v1h-1zM94 437h1v1h-1zM860 437h1v1h-1zM94 438h1v1h-1zM860 438h1v1h-1zM94 439h1v1h-1zM860 439h1v1h-1zM94 440h1v1h-1zM860 440h1v1h-1zM94 441h1v1h-1zM860 441h1v1h-1zM94 442h1v1h-1zM860 442h1v1h-1zM94 443h1v1h-1zM860 443h1v1h-1zM94 444h1v1h-1zM860 444h1v1h-1zM94 445h1v1h-1zM860 445h1v1h-1zM94 446h1v1h-1zM860 446h1v1h-1zM94 447h1v1h-1zM860 447h1v1h-1zM94 448h1v1h-1zM860 448h1v1h-1zM94 449h1v1h-1zM860 449h1v1h-1zM94 450h1v1h-1zM860 450h1v1h-1zM94 451h1v1h-1zM860 451h1v1h-1zM94 452h1v1h-1zM860 452h1v1h-1zM94 453h1v1h-1zM860 453h1v1h-1zM94 454h1v1h-1zM860 454h1v1h-1zM94 455h1v1h-1zM860 455h1v1h-1zM94 456h1v1h-1zM860 456h1v1h-1zM94 457h1v1h-1zM860 457h1v1h-1zM94 458h1v1h-1zM860 458h1v1h-1zM94 459h1v1h-1zM860 459h1v1h-1zM94 460h1v1h-1zM860 460h1v1h-1zM94 461h1v1h-1zM860 461h1v1h-1zM94 462h1v1h-1zM860 462h1v1h-1zM94 463h1v1h-1zM860 463h1v1h-1zM94 464h1v1h-1zM860 464h1v1h-1zM94 465h1v1h-1zM860 465h1v1h-1zM94 466h1v1h-1zM860 466h1v1h-1zM94 467h1v1h-1zM860 467h1v1h-1zM94 468h1v1h-1zM860 468h1v1h-1zM94 469h1v1h-1zM860 469h1v1h-1zM94 470h1v1h-1zM860 470h1v1h-1zM94 471h1v1h-1zM860 471h1v1h-1zM94 472h1v1h-1zM860 472h1v1h-1zM94 473h1v1h-1zM853 473h8v1h-8zM94 474h1v1h-1zM860 474h1v1h-1zM94 475h1v1h-1zM860 475h1v1h-1zM94 476h1v1h-1zM860 476h1v1h-1zM94 477h1v1h-1zM860 477h1v1h-1zM94 478h1v1h-1zM860 478h1v1h-1zM94 479h1v1h-1zM860 479h1v1h-1zM94 480h1v1h-1zM860 480h1v1h-1zM94 481h1v1h-1zM860 481h1v1h-1zM94 482h1v1h-1zM860 482h1v1h-1zM94 483h1v1h-1zM860 483h1v1h-1zM94 484h1v1h-1zM860 484h1v1h-1zM94 485h1v1h-1zM860 485h1v1h-1zM94 486h1v1h-1zM860 486h1v1h-1zM94 487h1v1h-1zM860 487h1v1h-1zM94 488h1v1h-1zM860 488h1v1h-1zM94 489h1v1h-1zM860 489h1v1h-1zM94 490h1v1h-1zM860 490h1v1h-1zM94 491h1v1h-1zM860 491h1v1h-1zM94 492h1v1h-1zM860 492h1v1h-1zM94 493h1v1h-1zM860 493h1v1h-1zM94 494h1v1h-1zM860 494h1v1h-1zM94 495h1v1h-1zM860 495h1v1h-1zM94 496h1v1h-1zM860 496h1v1h-1zM94 497h1v1h-1zM860 497h1v1h-1zM94 498h1v1h-1zM860 498h1v1h-1zM94 499h1v1h-1zM860 499h1v1h-1zM94 500h1v1h-1zM860 500h1v1h-1zM94 501h1v1h-1zM860 501h1v1h-1zM94 502h1v1h-1zM860 502h1v1h-1zM94 503h1v1h-1zM860 503h1v1h-1zM94 504h1v1h-1zM860 504h1v1h-1zM94 505h1v1h-1zM860 505h1v1h-1zM94 506h1v1h-1zM860 506h1v1h-1zM94 507h1v1h-1zM860 507h1v1h-1zM94 508h1v1h-1zM860 508h1v1h-1zM94 509h1v1h-1zM860 509h1v1h-1zM94 510h8v1h-8zM853 510h8v1h-8zM94 511h1v1h-1zM860 511h1v1h-1zM94 512h1v1h-1zM860 512h1v1h-1zM94 513h1v1h-1zM860 513h1v1h-1zM94 514h1v1h-1zM860 514h1v1h-1zM94 515h1v1h-1zM860 515h1v1h-1zM94 516h1v1h-1zM860 516h1v1h-1zM94 517h1v1h-1zM860 517h1v1h-1zM94 518h1v1h-1zM860 518h1v1h-1zM94 519h1v1h-1zM860 519h1v1h-1zM94 520h1v1h-1zM860 520h1v1h-1zM94 521h1v1h-1zM860 521h1v1h-1zM94 522h1v1h-1zM860 522h1v1h-1zM94 523h1v1h-1zM860 523h1v1h-1zM94 524h1v1h-1zM860 524h1v1h-1zM94 525h1v1h-1zM860 525h1v1h-1zM94 526h1v1h-1zM860 526h1v1h-1zM94 527h1v1h-1zM860 527h1v1h-1zM94 528h1v1h-1zM860 528h1v1h-1zM94 529h1v1h-1zM860 529h1v1h-1zM94 530h1v1h-1zM860 530h1v1h-1zM94 531h1v1h-1zM860 531h1v1h-1zM94 532h1v1h-1zM860 532h1v1h-1zM94 533h1v1h-1zM860 533h1v1h-1zM94 534h1v1h-1zM860 534h1v1h-1zM94 535h1v1h-1zM860 535h1v1h-1zM94 536h1v1h-1zM860 536h1v1h-1zM94 537h1v1h-1zM860 537h1v1h-1zM94 538h1v1h-1zM860 538h1v1h-1zM94 539h1v1h-1zM860 539h1v1h-1zM94 540h1v1h-1zM860 540h1v1h-1zM94 541h1v1h-1zM860 541h1v1h-1zM94 542h1v1h-1zM853 542h8v1h-8zM94 543h1v1h-1zM860 543h1v1h-1zM94 544h1v1h-1zM860 544h1v1h-1zM94 545h1v1h-1zM860 545h1v1h-1zM94 546h1v1h-1zM860 546h1v1h-1zM94 547h1v1h-1zM860 547h1v1h-1zM94 548h1v1h-1zM860 548h1v1h-1zM94 549h1v1h-1zM860 549h1v1h-1zM94 550h1v1h-1zM860 550h1v1h-1zM94 551h1v1h-1zM860 551h1v1h-1zM94 552h1v1h-1zM860 552h1v1h-1zM94 553h1v1h-1zM860 553h1v1h-1zM94 554h1v1h-1zM860 554h1v1h-1zM94 555h1v1h-1zM860 555h1v1h-1zM94 556h1v1h-1zM860 556h1v1h-1zM94 557h1v1h-1zM860 557h1v1h-1zM94 558h1v1h-1zM860 558h1v1h-1zM94 559h1v1h-1zM860 559h1v1h-1zM94 560h1v1h-1zM860 560h1v1h-1zM94 561h1v1h-1zM860 561h1v1h-1zM94 562h1v1h-1zM860 562h1v1h-1zM94 563h1v1h-1zM860 563h1v1h-1zM94 564h1v1h-1zM860 564h1v1h-1zM94 565h1v1h-1zM860 565h1v1h-1zM94 566h1v1h-1zM860 566h1v1h-1zM94 567h1v1h-1zM860 567h1v1h-1zM94 568h1v1h-1zM860 568h1v1h-1zM94 569h1v1h-1zM860 569h1v1h-1zM94 570h1v1h-1zM860 570h1v1h-1zM94 571h1v1h-1zM860 571h1v1h-1zM94 572h1v1h-1zM860 572h1v1h-1zM94 573h1v1h-1zM860 573h1v1h-1zM94 574h1v1h-1zM860 574h1v1h-1zM94 575h1v1h-1zM860 575h1v1h-1zM94 576h1v1h-1zM860 576h1v1h-1zM94 577h1v1h-1zM860 577h1v1h-1zM94 578h1v1h-1zM860 578h1v1h-1zM94 579h1v1h-1zM860 579h1v1h-1zM94 580h1v1h-1zM860 580h1v1h-1zM94 581h1v1h-1zM860 581h1v1h-1zM94 582h1v1h-1zM860 582h1v1h-1zM94 583h1v1h-1zM860 583h1v1h-1zM94 584h1v1h-1zM860 584h1v1h-1zM94 585h1v1h-1zM860 585h1v1h-1zM94 586h1v1h-1zM860 586h1v1h-1zM94 587h1v1h-1zM860 587h1v1h-1zM94 588h1v1h-1zM860 588h1v1h-1zM94 589h1v1h-1zM860 589h1v1h-1zM94 590h1v1h-1zM860 590h1v1h-1zM94 591h1v1h-1zM860 591h1v1h-1zM94 592h1v1h-1zM860 592h1v1h-1zM94 593h1v1h-1zM860 593h1v1h-1zM94 594h1v1h-1zM860 594h1v1h-1zM94 595h1v1h-1zM860 595h1v1h-1zM94 596h8v1h-8zM853 596h8v1h-8zM94 597h1v1h-1zM860 597h1v1h-1zM94 598h1v1h-1zM860 598h1v1h-1zM94 599h1v1h-1zM860 599h1v1h-1zM94 600h1v1h-1zM860 600h1v1h-1zM94 601h1v1h-1zM860 601h1v1h-1zM94 602h1v1h-1zM860 602h1v1h-1zM94 603h1v1h-1zM860 603h1v1h-1zM94 604h1v1h-1zM860 604h1v1h-1zM94 605h1v1h-1zM860 605h1v1h-1zM94 606h1v1h-1zM860 606h1v1h-1zM94 607h1v1h-1zM860 607h1v1h-1zM94 608h1v1h-1zM860 608h1v1h-1zM94 609h1v1h-1zM860 609h1v1h-1zM94 610h1v1h-1zM860 610h1v1h-1zM94 611h1v1h-1zM860 611h1v1h-1zM94 612h1v1h-1zM853 612h8v1h-8zM94 613h1v1h-1zM860 613h1v1h-1zM94 614h1v1h-1zM860 614h1v1h-1zM94 615h1v1h-1zM860 615h1v1h-1zM94 616h1v1h-1zM860 616h1v1h-1zM94 617h1v1h-1zM860 617h1v1h-1zM94 618h1v1h-1zM860 618h1v1h-1zM94 619h1v1h-1zM860 619h1v1h-1zM94 620h1v1h-1zM860 620h1v1h-1zM94 621h1v1h-1zM860 621h1v1h-1zM94 622h1v1h-1zM860 622h1v1h-1zM94 623h1v1h-1zM860 623h1v1h-1zM94 624h1v1h-1zM860 624h1v1h-1zM94 625h1v1h-1zM860 625h1v1h-1zM94 626h1v1h-1zM860 626h1v1h-1zM94 627h1v1h-1zM860 627h1v1h-1zM94 628h1v1h-1zM860 628h1v1h-1zM94 629h1v1h-1zM860 629h1v1h-1zM94 630h1v1h-1zM860 630h1v1h-1zM94 631h1v1h-1zM860 631h1v1h-1zM94 632h1v1h-1zM860 632h1v1h-1zM94 633h1v1h-1zM860 633h1v1h-1zM94 634h1v1h-1zM860 634h1v1h-1zM94 635h1v1h-1zM860 635h1v1h-1zM94 636h1v1h-1zM860 636h1v1h-1zM94 637h1v1h-1zM860 637h1v1h-1zM94 638h1v1h-1zM860 638h1v1h-1zM94 639h1v1h-1zM860 639h1v1h-1zM94 640h1v1h-1zM860 640h1v1h-1zM94 641h1v1h-1zM860 641h1v1h-1zM94 642h1v1h-1zM860 642h1v1h-1zM94 643h1v1h-1zM860 643h1v1h-1zM94 644h1v1h-1zM860 644h1v1h-1zM94 645h1v1h-1zM860 645h1v1h-1zM94 646h1v1h-1zM860 646h1v1h-1zM94 647h1v1h-1zM860 647h1v1h-1zM94 648h1v1h-1zM860 648h1v1h-1zM94 649h1v1h-1zM860 649h1v1h-1zM94 650h1v1h-1zM860 650h1v1h-1zM94 651h1v1h-1zM860 651h1v1h-1zM94 652h1v1h-1zM860 652h1v1h-1zM94 653h1v1h-1zM860 653h1v1h-1zM94 654h1v1h-1zM860 654h1v1h-1zM94 655h1v1h-1zM860 655h1v1h-1zM94 656h1v1h-1zM860 656h1v1h-1zM94 657h1v1h-1zM860 657h1v1h-1zM94 658h1v1h-1zM860 658h1v1h-1zM94 659h1v1h-1zM860 659h1v1h-1zM94 660h1v1h-1zM860 660h1v1h-1zM94 661h1v1h-1zM860 661h1v1h-1zM94 662h1v1h-1zM860 662h1v1h-1zM94 663h1v1h-1zM860 663h1v1h-1zM94 664h1v1h-1zM860 664h1v1h-1zM94 665h1v1h-1zM860 665h1v1h-1zM94 666h1v1h-1zM860 666h1v1h-1zM94 667h1v1h-1zM860 667h1v1h-1zM94 668h1v1h-1zM860 668h1v1h-1zM94 669h1v1h-1zM860 669h1v1h-1zM94 670h1v1h-1zM860 670h1v1h-1zM94 671h1v1h-1zM860 671h1v1h-1zM94 672h1v1h-1zM860 672h1v1h-1zM94 673h1v1h-1zM860 673h1v1h-1zM94 674h1v1h-1zM158 674h1v1h-1zM222 674h1v1h-1zM286 674h1v1h-1zM350 674h1v1h-1zM413 674h1v1h-1zM477 674h1v1h-1zM541 674h1v1h-1zM605 674h1v1h-1zM669 674h1v1h-1zM733 674h1v1h-1zM797 674h1v1h-1zM860 674h1v1h-1zM94 675h1v1h-1zM158 675h1v1h-1zM222 675h1v1h-1zM286 675h1v1h-1zM350 675h1v1h-1zM413 675h1v1h-1zM477 675h1v1h-1zM541 675h1v1h-1zM605 675h1v1h-1zM669 675h1v1h-1zM733 675h1v1h-1zM797 675h1v1h-1zM860 675h1v1h-1zM94 676h1v1h-1zM158 676h1v1h-1zM222 676h1v1h-1zM286 676h1v1h-1zM350 676h1v1h-1zM413 676h1v1h-1zM477 676h1v1h-1zM541 676h1v1h-1zM605 676h1v1h-1zM669 676h1v1h-1zM733 676h1v1h-1zM797 676h1v1h-1zM860 676h1v1h-1zM94 677h1v1h-1zM158 677h1v1h-1zM222 677h1v1h-1zM286 677h1v1h-1zM350 677h1v1h-1zM413 677h1v1h-1zM477 677h1v1h-1zM541 677h1v1h-1zM605 677h1v1h-1zM669 677h1v1h-1zM733 677h1v1h-1zM797 677h1v1h-1zM860 677h1v1h-1zM94 678h1v1h-1zM126 678h1v1h-1zM158 678h1v1h-1zM190 678h1v1h-1zM222 678h1v1h-1zM254 678h1v1h-1zM286 678h1v1h-1zM318 678h1v1h-1zM350 678h1v1h-1zM381 678h1v1h-1zM413 678h1v1h-1zM445 678h1v1h-1zM477 678h1v1h-1zM509 678h1v1h-1zM541 678h1v1h-1zM573 678h1v1h-1zM605 678h1v1h-1zM637 678h1v1h-1zM669 678h1v1h-1zM701 678h1v1h-1zM733 678h1v1h-1zM765 678h1v1h-1zM797 678h1v1h-1zM829 678h1v1h-1zM860 678h1v1h-1zM94 679h1v1h-1zM126 679h1v1h-1zM158 679h1v1h-1zM190 679h1v1h-1zM222 679h1v1h-1zM254 679h1v1h-1zM286 679h1v1h-1zM318 679h1v1h-1zM350 679h1v1h-1zM381 679h1v1h-1zM413 679h1v1h-1zM445 679h1v1h-1zM477 679h1v1h-1zM509 679h1v1h-1zM541 679h1v1h-1zM573 679h1v1h-1zM605 679h1v1h-1zM637 679h1v1h-1zM669 679h1v1h-1zM701 679h1v1h-1zM733 679h1v1h-1zM765 679h1v1h-1zM797 679h1v1h-1zM829 679h1v1h-1zM860 679h1v1h-1zM94 680h1v1h-1zM126 680h1v1h-1zM158 680h1v1h-1zM190 680h1v1h-1zM222 680h1v1h-1zM254 680h1v1h-1zM286 680h1v1h-1zM318 680h1v1h-1zM350 680h1v1h-1zM381 680h1v1h-1zM413 680h1v1h-1zM445 680h1v1h-1zM477 680h1v1h-1zM509 680h1v1h-1zM541 680h1v1h-1zM573 680h1v1h-1zM605 680h1v1h-1zM637 680h1v1h-1zM669 680h1v1h-1zM701 680h1v1h-1zM733 680h1v1h-1zM765 680h1v1h-1zM797 680h1v1h-1zM829 680h1v1h-1zM860 680h1v1h-1zM94 681h767v1h-767z"/>
<g id="labels" fill="#000">
<path aria-label="AC Leistung in [W]" d="M124 69h1v7h-1zM125 68h1v8h-1zM126 68h1v1h-1zM126 72h1v1h-1zM127 68h1v1h-1zM127 72h1v1h-1zM128 68h1v8h-1zM129 69h1v7h-1zM131 69h1v6h-1zM132 68h1v8h-1zM133 68h1v1h-1zM133 75h1v1h-1zM134 68h1v1h-1zM134 75h1v1h-1zM135 68h1v2h-1zM135 74h1v2h-1zM136 69h1v1h-1zM136 74h1v1h-1zM145 68h1v8h-1zM146 68h1v8h-1zM147 75h1v1h-1zM148 75h1v1h-1zM149 75h1v1h-1zM150 75h1v1h-1zM152 71h1v4h-1zM153 70h1v6h-1zM154 70h1v1h-1zM154 72h1v1h-1zM154 75h1v1h-1zM155 70h1v1h-1zM155 72h1v1h-1zM155 75h1v1h-1zM156 70h1v3h-1zM156 74h1v2h-1zM157 71h1v2h-1zM157 74h1v1h-1zM159 75h1v1h-1zM160 70h1v1h-1zM160 75h1v1h-1zM161 67h1v2h-1zM161 70h1v6h-1zM162 67h1v2h-1zM162 70h1v6h-1zM163 75h1v1h-1zM164 75h1v1h-1zM166 71h1v1h-1zM166 74h1v1h-1zM167 70h1v3h-1zM167 74h1v2h-1zM168 70h1v1h-1zM168 72h1v1h-1zM168 75h1v1h-1zM169 70h1v1h-1zM169 73h1v1h-1zM169 75h1v1h-1zM170 70h1v2h-1zM170 73h1v3h-1zM171 71h1v1h-1zM171 74h1v1h-1zM173 70h1v1h-1zM174 68h1v7h-1zM175 68h1v8h-1zM176 70h1v1h-1zM176 75h1v1h-1zM177 70h1v1h-1zM177 74h1v2h-1zM178 74h1v1h-1zM180 70h1v5h-1zM181 70h1v6h-1zM182 75h1v1h-1zM183 75h1v1h-1zM184 70h1v6h-1zM185 70h1v6h-1zM187 70h1v6h-1zM188 70h1v6h-1zM189 70h1v1h-1zM190 70h1v1h-1zM191 70h1v6h-1zM192 71h1v5h-1zM194 71h1v2h-1zM194 74h1v1h-1zM194 76h1v1h-1zM195 70h1v8h-1zM196 70h1v1h-1zM196 73h1v1h-1zM196 75h1v1h-1zM196 77h1v1h-1zM197 70h1v1h-1zM197 73h1v1h-1zM197 75h1v1h-1zM197 77h1v1h-1zM198 71h1v3h-1zM198 75h1v3h-1zM199 70h1v3h-1zM199 76h1v1h-1zM208 75h1v1h-1zM209 70h1v1h-1zM209 75h1v1h-1zM210 67h1v2h-1zM210 70h1v6h-1zM211 67h1v2h-1zM211 70h1v6h-1zM212 75h1v1h-1zM213 75h1v1h-1zM215 70h1v6h-1zM216 70h1v6h-1zM217 70h1v1h-1zM218 70h1v1h-1zM219 70h1v6h-1zM220 71h1v5h-1zM230 67h1v9h-1zM231 67h1v9h-1zM232 67h1v1h-1zM232 75h1v1h-1zM233 67h1v1h-1zM233 75h1v1h-1zM236 68h1v8h-1zM237 68h1v7h-1zM238 72h1v2h-1zM239 72h1v2h-1zM240 68h1v7h-1zM241 68h1v8h-1zM244 67h1v1h-1zM244 75h1v1h-1zM245 67h1v1h-1zM245 75h1v1h-1zM246 67h1v9h-1zM247 67h1v9h-1z"/>
<path aria-label="PV-Power-In in [W]" d="M124 87h1v8h-1zM125 87h1v8h-1zM126 87h1v1h-1zM126 90h1v1h-1zM127 87h1v1h-1zM127 90h1v1h-1zM128 87h1v4h-1zM129 88h1v2h-1zM131 87h1v3h-1zM132 87h1v6h-1zM133 92h1v3h-1zM134 92h1v3h-1zM135 87h1v6h-1zM136 87h1v3h-1zM138 90h1v2h-1zM139 90h1v2h-1zM140 90h1v2h-1zM141 90h1v2h-1zM142 90h1v2h-1zM143 90h1v2h-1zM145 87h1v8h-1zM146 87h1v8h-1zM147 87h1v1h-1zM147 90h1v1h-1zM148 87h1v1h-1zM148 90h1v1h-1zM149 87h1v4h-1zM150 88h1v2h-1zM152 90h1v4h-1zM153 89h1v6h-1zM154 89h1v1h-1zM154 94h1v1h-1zM155 89h1v1h-1zM155 94h1v1h-1zM156 89h1v6h-1zM157 90h1v4h-1zM159 89h1v5h-1zM160 89h1v6h-1zM161 92h1v2h-1zM162 92h1v2h-1zM163 89h1v6h-1zM164 89h1v5h-1zM166 90h1v4h-1zM167 89h1v6h-1zM168 89h1v1h-1zM168 91h1v1h-1zM168 94h1v1h-1zM169 89h1v1h-1zM169 91h1v1h-1zM169 94h1v1h-1zM170 89h1v3h-1zM170 93h1v2h-1zM171 90h1v2h-1zM171 93h1v1h-1zM173 89h1v6h-1zM174 89h1v6h-1zM175 89h1v1h-1zM176 89h1v1h-1zM177 89h1v2h-1zM178 90h1v1h-1zM180 90h1v2h-1zM181 90h1v2h-1zM182 90h1v2h-1zM183 90h1v2h-1zM184 90h1v2h-1zM185 90h1v2h-1zM187 87h1v1h-1zM187 94h1v1h-1zM188 87h1v1h-1zM188 94h1v1h-1zM189 87h1v8h-1zM190 87h1v8h-1zM191 87h1v1h-1zM191 94h1v1h-1zM192 87h1v1h-1zM192 94h1v1h-1zM194 89h1v6h-1zM195 89h1v6h-1zM196 89h1v1h-1zM197 89h1v1h-1zM198 89h1v6h-1zM199 90h1v5h-1zM208 94h1v1h-1zM209 89h1v1h-1zM209 94h1v1h-1zM210 86h1v2h-1zM210 89h1v6h-1zM211 86h1v2h-1zM211 89h1v6h-1zM212 94h1v1h-1zM213 94h1v1h-1zM215 89h1v6h-1zM216 89h1v6h-1zM217 89h1v1h-1zM218 89h1v1h-1zM219 89h1v6h-1zM220 90h1v5h-1zM230 86h1v9h-1zM231 86h1v9h-1zM232 86h1v1h-1zM232 94h1v1h-1zM233 86h1v1h-1zM233 94h1v1h-1zM236 87h1v8h-1zM237 87h1v7h-1zM238 91h1v2h-1zM239 91h1v2h-1zM240 87h1v7h-1zM241 87h1v8h-1zM244 86h1v1h-1zM244 94h1v1h-1zM245 86h1v1h-1zM245 94h1v1h-1zM246 86h1v9h-1zM247 86h1v9h-1z"/>
<path aria-label="PV-Power-Out in [W]" d="M114 106h1v8h-1zM115 106h1v8h-1zM116 106h1v1h-1zM116 109h1v1h-1zM117 106h1v1h-1zM117 109h1v1h-1zM118 106h1v4h-1zM119 107h1v2h-1zM121 106h1v3h-1zM122 106h1v6h-1zM123 111h1v3h-1zM124 111h1v3h-1zM125 106h1v6h-1zM126 106h1v3h-1zM128 109h1v2h-1zM129 109h1v2h-1zM130 109h1v2h-1zM131 109h1v2h-1zM132 109h1v2h-1zM133 109h1v2h-1zM135 106h1v8h-1zM136 106h1v8h-1zM137 106h1v1h-1zM137 109h1v1h-1zM138 106h1v1h-1zM138 109h1v1h-1zM139 106h1v4h-1zM140 107h1v2h-1zM142 109h1v4h-1zM143 108h1v6h-1zM144 108h1v1h-1zM144 113h1v1h-1zM145 108h1v1h-1zM145 113h1v1h-1zM146 108h1v6h-1zM147 109h1v4h-1zM149 108h1v5h-1zM150 108h1v6h-1zM151 111h1v2h-1zM152 111h1v2h-1zM153 108h1v6h-1zM154 108h1v5h-1zM156 109h1v4h-1zM157 108h1v6h-1zM158 108h1v1h-1zM158 110h1v1h-1zM158 113h1v1h-1zM159 108h1v1h-1zM159 110h1v1h-1zM159 113h1v1h-1zM160 108h1v3h-1zM160 112h1v2h-1zM161 109h1v2h-1zM161 112h1v1h-1zM163 108h1v6h-1zM164 108h1v6h-1zM165 108h1v1h-1zM166 108h1v1h-1zM167 108h1v2h-1zM168 109h1v1h-1zM170 109h1v2h-1zM171 109h1v2h-1zM172 109h1v2h-1zM173 109h1v2h-1zM174 109h1v2h-1zM175 109h1v2h-1zM177 107h1v6h-1zM178 106h1v8h-1zM179 106h1v1h-1zM179 113h1v1h-1zM180 106h1v1h-1zM180 113h1v1h-1zM181 106h1v8h-1zM182 107h1v6h-1zM184 108h1v5h-1zM185 108h1v6h-1zM186 113h1v1h-1zM187 113h1v1h-1zM188 108h1v6h-1zM189 108h1v6h-1zM191 108h1v1h-1zM192 106h1v7h-1zM193 106h1v8h-1zM194 108h1v1h-1zM194 113h1v1h-1zM195 108h1v1h-1zM195 112h1v2h-1zM196 112h1v1h-1zM205 113h1v1h-1zM206 108h1v1h-1zM206 113h1v1h-1zM207 105h1v2h-1zM207 108h1v6h-1zM208 105h1v2h-1zM208 108h1v6h-1zM209 113h1v1h-1zM210 113h1v1h-1zM212 108h1v6h-1zM213 108h1v6h-1zM214 108h1v1h-1zM215 108h1v1h-1zM216 108h1v6h-1zM217 109h1v5h-1zM227 105h1v9h-1zM228 105h1v9h-1zM229 105h1v1h-1zM229 113h1v1h-1zM230 105h1v1h-1zM230 113h1v1h-1zM233 106h1v8h-1zM234 106h1v7h-1zM235 110h1v2h-1zM236 110h1v2h-1zM237 106h1v7h-1zM238 106h1v8h-1zM241 105h1v1h-1zM241 113h1v1h-1zM242 105h1v1h-1zM242 113h1v1h-1zM243 105h1v9h-1zM244 105h1v9h-1z"/>
<path aria-label="PV-1 Leistung in [W]" d="M104 125h1v8h-1zM105 125h1v8h-1zM106 125h1v1h-1zM106 128h1v1h-1zM107 125h1v1h-1zM107 128h1v1h-1zM108 125h1v4h-1zM109 126h1v2h-1zM111 125h1v3h-1zM112 125h1v6h-1zM113 130h1v3h-1zM114 130h1v3h-1zM115 125h1v6h-1zM116 125h1v3h-1zM118 128h1v2h-1zM119 128h1v2h-1zM120 128h1v2h-1zM121 128h1v2h-1zM122 128h1v2h-1zM123 128h1v2h-1zM125 127h1v1h-1zM125 132h1v1h-1zM126 126h1v1h-1zM126 132h1v1h-1zM127 125h1v8h-1zM128 125h1v8h-1zM129 132h1v1h-1zM130 132h1v1h-1zM139 125h1v8h-1zM140 125h1v8h-1zM141 132h1v1h-1zM142 132h1v1h-1zM143 132h1v1h-1zM144 132h1v1h-1zM146 128h1v4h-1zM147 127h1v6h-1zM148 127h1v1h-1zM148 129h1v1h-1zM148 132h1v1h-1zM149 127h1v1h-1zM149 129h1v1h-1zM149 132h1v1h-1zM150 127h1v3h-1zM150 131h1v2h-1zM151 128h1v2h-1zM151 131h1v1h-1zM153 132h1v1h-1zM154 127h1v1h-1zM154 132h1v1h-1zM155 124h1v2h-1zM155 127h1v6h-1zM156 124h1v2h-1zM156 127h1v6h-1zM157 132h1v1h-1zM158 132h1v1h-1zM160 128h1v1h-1zM160 131h1v1h-1zM161 127h1v3h-1zM161 131h1v2h-1zM162 127h1v1h-1zM162 129h1v1h-1zM162 132h1v1h-1zM163 127h1v1h-1zM163 130h1v1h-1zM163 132h1v1h-1zM164 127h1v2h-1zM164 130h1v3h-1zM165 128h1v1h-1zM165 131h1v1h-1zM167 127h1v1h-1zM168 125h1v7h-1zM169 125h1v8h-1zM170 127h1v1h-1zM170 132h1v1h-1zM171 127h1v1h-1zM171 131h1v2h-1zM172 131h1v1h-1zM174 127h1v5h-1zM175 127h1v6h-1zM176 132h1v1h-1zM177 132h1v1h-1zM178 127h1v6h-1zM179 127h1v6h-1zM181 127h1v6h-1zM182 127h1v6h-1zM183 127h1v1h-1zM184 127h1v1h-1zM185 127h1v6h-1zM186 128h1v5h-1zM188 128h1v2h-1zM188 131h1v1h-1zM188 133h1v1h-1zM189 127h1v8h-1zM190 127h1v1h-1zM190 130h1v1h-1zM190 132h1v1h-1zM190 134h1v1h-1zM191 127h1v1h-1zM191 130h1v1h-1zM191 132h1v1h-1zM191 134h1v1h-1zM192 128h1v3h-1zM192 132h1v3h-1zM193 127h1v3h-1zM193 133h1v1h-1zM202 132h1v1h-1zM203 127h1v1h-1zM203 132h1v1h-1zM204 124h1v2h-1zM204 127h1v6h-1zM205 124h1v2h-1zM205 127h1v6h-1zM206 132h1v1h-1zM207 132h1v1h-1zM209 127h1v6h-1zM210 127h1v6h-1zM211 127h1v1h-1zM212 127h1v1h-1zM213 127h1v6h-1zM214 128h1v5h-1zM224 124h1v9h-1zM225 124h1v9h-1zM226 124h1v1h-1zM226 132h1v1h-1zM227 124h1v1h-1zM227 132h1v1h-1zM230 125h1v8h-1zM231 125h1v7h-1zM232 129h1v2h-1zM233 129h1v2h-1zM234 125h1v7h-1zM235 125h1v8h-1zM238 124h1v1h-1zM238 132h1v1h-1zM239 124h1v1h-1zM239 132h1v1h-1zM240 124h1v9h-1zM241 124h1v9h-1z"/>
<path aria-label="PV-2 Leistung in [W]" d="M104 144h1v8h-1zM105 144h1v8h-1zM106 144h1v1h-1zM106 147h1v1h-1zM107 144h1v1h-1zM107 147h1v1h-1zM108 144h1v4h-1zM109 145h1v2h-1zM111 144h1v3h-1zM112 144h1v6h-1zM113 149h1v3h-1zM114 149h1v3h-1zM115 144h1v6h-1zM116 144h1v3h-1zM118 147h1v2h-1zM119 147h1v2h-1zM120 147h1v2h-1zM121 147h1v2h-1zM122 147h1v2h-1zM123 147h1v2h-1zM125 145h1v2h-1zM125 150h1v2h-1zM126 144h1v3h-1zM126 149h1v3h-1zM127 144h1v1h-1zM127 148h1v2h-1zM127 151h1v1h-1zM128 144h1v1h-1zM128 148h1v1h-1zM128 151h1v1h-1zM129 144h1v5h-1zM129 151h1v1h-1zM130 145h1v3h-1zM130 151h1v1h-1zM139 144h1v8h-1zM140 144h1v8h-1zM141 151h1v1h-1zM142 151h1v1h-1zM143 151h1v1h-1zM144 151h1v1h-1zM146 147h1v4h-1zM147 146h1v6h-1zM148 146h1v1h-1zM148 148h1v1h-1zM148 151h1v1h-1zM149 146h1v1h-1zM149 148h1v1h-1zM149 151h1v1h-1zM150 146h1v3h-1zM150 150h1v2h-1zM151 147h1v2h-1zM151 150h1v1h-1zM153 151h1v1h-1zM154 146h1v1h-1zM154 151h1v1h-1zM155 143h1v2h-1zM155 146h1v6h-1zM156 143h1v2h-1zM156 146h1v6h-1zM157 151h1v1h-1zM158 151h1v1h-1zM160 147h1v1h-1zM160 150h1v1h-1zM161 146h1v3h-1zM161 150h1v2h-1zM162 146h1v1h-1zM162 148h1v1h-1zM162 151h1v1h-1zM163 146h1v1h-1zM163 149h1v1h-1zM163 151h1v1h-1zM164 146h1v2h-1zM164 149h1v3h-1zM165 147h1v1h-1zM165 150h1v1h-1zM167 146h1v1h-1zM168 144h1v7h-1zM169 144h1v8h-1zM170 146h1v1h-1zM170 151h1v1h-1zM171 146h1v1h-1zM171 150h1v2h-1zM172 150h1v1h-1zM174 146h1v5h-1zM175 146h1v6h-1zM176 151h1v1h-1zM177 151h1v1h-1zM178 146h1v6h-1zM179 146h1v6h-1zM181 146h1v6h-1zM182 146h1v6h-1zM183 146h1v1h-1zM184 146h1v1h-1zM185 146h1v6h-1zM186 147h1v5h-1zM188 147h1v2h-1zM188 150h1v1h-1zM188 152h1v1h-1zM189 146h1v8h-1zM190 146h1v1h-1zM190 149h1v1h-1zM190 151h1v1h-1zM190 153h1v1h-1zM191 146h1v1h-1zM191 149h1v1h-1zM191 151h1v1h-1zM191 153h1v1h-1zM192 147h1v3h-1zM192 151h1v3h-1zM193 146h1v3h-1zM193 152h1v1h-1zM202 151h1v1h-1zM203 146h1v1h-1zM203 151h1v1h-1zM204 143h1v2h-1zM204 146h1v6h-1zM205 143h1v2h-1zM205 146h1v6h-1zM206 151h1v1h-1zM207 151h1v1h-1zM209 146h1v6h-1zM210 146h1v6h-1zM211 146h1v1h-1zM212 146h1v1h-1zM213 146h1v6h-1zM214 147h1v5h-1zM224 143h1v9h-1zM225 143h1v9h-1zM226 143h1v1h-1zM226 151h1v1h-1zM227 143h1v1h-1zM227 151h1v1h-1zM230 144h1v8h-1zM231 144h1v7h-1zM232 148h1v2h-1zM233 148h1v2h-1zM234 144h1v7h-1zM235 144h1v8h-1zM238 143h1v1h-1zM238 151h1v1h-1zM239 143h1v1h-1zM239 151h1v1h-1zM240 143h1v9h-1zM241 143h1v9h-1z"/>
<path aria-label="Energie in [kWh]" d="M144 163h1v8h-1zM145 163h1v8h-1zM146 163h1v1h-1zM146 166h1v1h-1zM146 170h1v1h-1zM147 163h1v1h-1zM147 166h1v1h-1zM147 170h1v1h-1zM148 163h1v1h-1zM148 166h1v1h-1zM148 170h1v1h-1zM149 163h1v1h-1zM149 170h1v1h-1zM151 165h1v6h-1zM152 165h1v6h-1zM153 165h1v1h-1zM154 165h1v1h-1zM155 165h1v6h-1zM156 166h1v5h-1zM158 166h1v4h-1zM159 165h1v6h-1zM160 165h1v1h-1zM160 167h1v1h-1zM160 170h1v1h-1zM161 165h1v1h-1zM161 167h1v1h-1zM161 170h1v1h-1zM162 165h1v3h-1zM162 169h1v2h-1zM163 166h1v2h-1zM163 169h1v1h-1zM165 165h1v6h-1zM166 165h1v6h-1zM167 165h1v1h-1zM168 165h1v1h-1zM169 165h1v2h-1zM170 166h1v1h-1zM172 166h1v2h-1zM172 169h1v1h-1zM172 171h1v1h-1zM173 165h1v8h-1zM174 165h1v1h-1zM174 168h1v1h-1zM174 170h1v1h-1zM174 172h1v1h-1zM175 165h1v1h-1zM175 168h1v1h-1zM175 170h1v1h-1zM175 172h1v1h-1zM176 166h1v3h-1zM176 170h1v3h-1zM177 165h1v3h-1zM177 171h1v1h-1zM179 170h1v1h-1zM180 165h1v1h-1zM180 170h1v1h-1zM181 162h1v2h-1zM181 165h1v6h-1zM182 162h1v2h-1zM182 165h1v6h-1zM183 170h1v1h-1zM184 170h1v1h-1zM186 166h1v4h-1zM187 165h1v6h-1zM188 165h1v1h-1zM188 167h1v1h-1zM188 170h1v1h-1zM189 165h1v1h-1zM189 167h1v1h-1zM189 170h1v1h-1zM190 165h1v3h-1zM190 169h1v2h-1zM191 166h1v2h-1zM191 169h1v1h-1zM200 170h1v1h-1zM201 165h1v1h-1zM201 170h1v1h-1zM202 162h1v2h-1zM202 165h1v6h-1zM203 162h1v2h-1zM203 165h1v6h-1zM204 170h1v1h-1zM205 170h1v1h-1zM207 165h1v6h-1zM208 165h1v6h-1zM209 165h1v1h-1zM210 165h1v1h-1zM211 165h1v6h-1zM212 166h1v5h-1zM222 162h1v9h-1zM223 162h1v9h-1zM224 162h1v1h-1zM224 170h1v1h-1zM225 162h1v1h-1zM225 170h1v1h-1zM228 162h1v9h-1zM229 162h1v9h-1zM230 167h1v2h-1zM231 166h1v4h-1zM232 165h1v2h-1zM232 169h1v2h-1zM233 165h1v1h-1zM233 170h1v1h-1zM235 163h1v8h-1zM236 163h1v7h-1zM237 167h1v2h-1zM238 167h1v2h-1zM239 163h1v7h-1zM240 163h1v8h-1zM242 162h1v9h-1zM243 162h1v9h-1zM244 165h1v1h-1zM245 165h1v1h-1zM246 165h1v6h-1zM247 166h1v5h-1zM250 162h1v1h-1zM250 170h1v1h-1zM251 162h1v1h-1zM251 170h1v1h-1zM252 162h1v9h-1zM253 162h1v9h-1z"/>
<path aria-label="00:00" d="M69 695h1v6h-1zM70 694h1v8h-1zM71 694h1v1h-1zM71 698h1v1h-1zM71 701h1v1h-1zM72 694h1v1h-1zM72 697h1v1h-1zM72 701h1v1h-1zM73 694h1v8h-1zM74 695h1v6h-1zM76 695h1v6h-1zM77 694h1v8h-1zM78 694h1v1h-1zM78 698h1v1h-1zM78 701h1v1h-1zM79 694h1v1h-1zM79 697h1v1h-1zM79 701h1v1h-1zM80 694h1v8h-1zM81 695h1v6h-1zM84 696h1v1h-1zM84 701h1v1h-1zM85 695h1v3h-1zM85 700h1v3h-1zM86 695h1v3h-1zM86 700h1v3h-1zM87 696h1v1h-1zM87 701h1v1h-1zM90 695h1v6h-1zM91 694h1v8h-1zM92 694h1v1h-1zM92 698h1v1h-1zM92 701h1v1h-1zM93 694h1v1h-1zM93 697h1v1h-1zM93 701h1v1h-1zM94 694h1v8h-1zM95 695h1v6h-1zM97 695h1v6h-1zM98 694h1v8h-1zM99 694h1v1h-1zM99 698h1v1h-1zM99 701h1v1h-1zM100 694h1v1h-1zM100 697h1v1h-1zM100 701h1v1h-1zM101 694h1v8h-1zM102 695h1v6h-1z"/>
<path aria-label="02:00" d="M133 695h1v6h-1zM134 694h1v8h-1zM135 694h1v1h-1zM135 698h1v1h-1zM135 701h1v1h-1zM136 694h1v1h-1zM136 697h1v1h-1zM136 701h1v1h-1zM137 694h1v8h-1zM138 695h1v6h-1zM140 695h1v2h-1zM140 700h1v2h-1zM141 694h1v3h-1zM141 699h1v3h-1zM142 694h1v1h-1zM142 698h1v2h-1zM142 701h1v1h-1zM143 694h1v1h-1zM143 698h1v1h-1zM143 701h1v1h-1zM144 694h1v5h-1zM144 701h1v1h-1zM145 695h1v3h-1zM145 701h1v1h-1zM148 696h1v1h-1zM148 701h1v1h-1zM149 695h1v3h-1zM149 700h1v3h-1zM150 695h1v3h-1zM150 700h1v3h-1zM151 696h1v1h-1zM151 701h1v1h-1zM154 695h1v6h-1zM155 694h1v8h-1zM156 694h1v1h-1zM156 698h1v1h-1zM156 701h1v1h-1zM157 694h1v1h-1zM157 697h1v1h-1zM157 701h1v1h-1zM158 694h1v8h-1zM159 695h1v6h-1zM161 695h1v6h-1zM162 694h1v8h-1zM163 694h1v1h-1zM163 698h1v1h-1zM163 701h1v1h-1zM164 694h1v1h-1zM164 697h1v1h-1zM164 701h1v1h-1zM165 694h1v8h-1zM166 695h1v6h-1z"/>
<path aria-label="04:00" d="M197 695h1v6h-1zM198 694h1v8h-1zM199 694h1v1h-1zM199 698h1v1h-1zM199 701h1v1h-1zM200 694h1v1h-1zM200 697h1v1h-1zM200 701h1v1h-1zM201 694h1v8h-1zM202 695h1v6h-1zM204 698h1v2h-1zM205 697h1v3h-1zM206 696h1v2h-1zM206 699h1v1h-1zM207 695h1v2h-1zM207 699h1v1h-1zM208 694h1v8h-1zM209 694h1v8h-1zM212 696h1v1h-1zM212 701h1v1h-1zM213 695h1v3h-1zM213 700h1v3h-1zM214 695h1v3h-1zM214 700h1v3h-1zM215 696h1v1h-1zM215 701h1v1h-1zM218 695h1v6h-1zM219 694h1v8h-1zM220 694h1v1h-1zM220 698h1v1h-1zM220 701h1v1h-1zM221 694h1v1h-1zM221 697h1v1h-1zM221 701h1v1h-1zM222 694h1v8h-1zM223 695h1v6h-1zM225 695h1v6h-1zM226 694h1v8h-1zM227 694h1v1h-1zM227 698h1v1h-1zM227 701h1v1h-1zM228 694h1v1h-1zM228 697h1v1h-1zM228 701h1v1h-1zM229 694h1v8h-1zM230 695h1v6h-1z"/>
<path aria-label="06:00" d="M261 695h1v6h-1zM262 694h1v8h-1zM263 694h1v1h-1zM263 698h1v1h-1zM263 701h1v1h-1zM264 694h1v1h-1zM264 697h1v1h-1zM264 701h1v1h-1zM265 694h1v8h-1zM266 695h1v6h-1zM268 695h1v6h-1zM269 694h1v8h-1zM270 694h1v1h-1zM270 697h1v1h-1zM270 701h1v1h-1zM271 694h1v1h-1zM271 697h1v1h-1zM271 701h1v1h-1zM272 694h1v2h-1zM272 697h1v5h-1zM273 695h1v1h-1zM273 698h1v3h-1zM276 696h1v1h-1zM276 701h1v1h-1zM277 695h1v3h-1zM277 700h1v3h-1zM278 695h1v3h-1zM278 700h1v3h-1zM279 696h1v1h-1zM279 701h1v1h-1zM282 695h1v6h-1zM283 694h1v8h-1zM284 694h1v1h-1zM284 698h1v1h-1zM284 701h1v1h-1zM285 694h1v1h-1zM285 697h1v1h-1zM285 701h1v1h-1zM286 694h1v8h-1zM287 695h1v6h-1zM289 695h1v6h-1zM290 694h1v8h-1zM291 694h1v1h-1zM291 698h1v1h-1zM291 701h1v1h-1zM292 694h1v1h-1zM292 697h1v1h-1zM292 701h1v1h-1zM293 694h1v8h-1zM294 695h1v6h-1z"/>
<path aria-label="08:00" d="M325 695h1v6h-1zM326 694h1v8h-1zM327 694h1v1h-1zM327 698h1v1h-1zM327 701h1v1h-1zM328 694h1v1h-1zM328 697h1v1h-1zM328 701h1v1h-1zM329 694h1v8h-1zM330 695h1v6h-1zM332 695h1v2h-1zM332 698h1v3h-1zM333 694h1v8h-1zM334 694h1v1h-1zM334 697h1v1h-1zM334 701h1v1h-1zM335 694h1v1h-1zM335 697h1v1h-1zM335 701h1v1h-1zM336 694h1v8h-1zM337 695h1v2h-1zM337 698h1v3h-1zM340 696h1v1h-1zM340 701h1v1h-1zM341 695h1v3h-1zM341 700h1v3h-1zM342 695h1v3h-1zM342 700h1v3h-1zM343 696h1v1h-1zM343 701h1v1h-1zM346 695h1v6h-1zM347 694h1v8h-1zM348 694h1v1h-1zM348 698h1v1h-1zM348 701h1v1h-1zM349 694h1v1h-1zM349 697h1v1h-1zM349 701h1v1h-1zM350 694h1v8h-1zM351 695h1v6h-1zM353 695h1v6h-1zM354 694h1v8h-1zM355 694h1v1h-1zM355 698h1v1h-1zM355 701h1v1h-1zM356 694h1v1h-1zM356 697h1v1h-1zM356 701h1v1h-1zM357 694h1v8h-1zM358 695h1v6h-1z"/>
<path aria-label="10:00" d="M388 696h1v1h-1zM388 701h1v1h-1zM389 695h1v1h-1zM389 701h1v1h-1zM390 694h1v8h-1zM391 694h1v8h-1zM392 701h1v1h-1zM393 701h1v1h-1zM395 695h1v6h-1zM396 694h1v8h-1zM397 694h1v1h-1zM397 698h1v1h-1zM397 701h1v1h-1zM398 694h1v1h-1zM398 697h1v1h-1zM398 701h1v1h-1zM399 694h1v8h-1zM400 695h1v6h-1zM403 696h1v1h-1zM403 701h1v1h-1zM404 695h1v3h-1zM404 700h1v3h-1zM405 695h1v3h-1zM405 700h1v3h-1zM406 696h1v1h-1zM406 701h1v1h-1zM409 695h1v6h-1zM410 694h1v8h-1zM411 694h1v1h-1zM411 698h1v1h-1zM411 701h1v1h-1zM412 694h1v1h-1zM412 697h1v1h-1zM412 701h1v1h-1zM413 694h1v8h-1zM414 695h1v6h-1zM416 695h1v6h-1zM417 694h1v8h-1zM418 694h1v1h-1zM418 698h1v1h-1zM418 701h1v1h-1zM419 694h1v1h-1zM419 697h1v1h-1zM419 701h1v1h-1zM420 694h1v8h-1zM421 695h1v6h-1z"/>
<path aria-label="12:00" d="M452 696h1v1h-1zM452 701h1v1h-1zM453 695h1v1h-1zM453 701h1v1h-1zM454 694h1v8h-1zM455 694h1v8h-1zM456 701h1v1h-1zM457 701h1v1h-1zM459 695h1v2h-1zM459 700h1v2h-1zM460 694h1v3h-1zM460 699h1v3h-1zM461 694h1v1h-1zM461 698h1v2h-1zM461 701h1v1h-1zM462 694h1v1h-1zM462 698h1v1h-1zM462 701h1v1h-1zM463 694h1v5h-1zM463 701h1v1h-1zM464 695h1v3h-1zM464 701h1v1h-1zM467 696h1v1h-1zM467 701h1v1h-1zM468 695h1v3h-1zM468 700h1v3h-1zM469 695h1v3h-1zM469 700h1v3h-1zM470 696h1v1h-1zM470 701h1v1h-1zM473 695h1v6h-1zM474 694h1v8h-1zM475 694h1v1h-1zM475 698h1v1h-1zM475 701h1v1h-1zM476 694h1v1h-1zM476 697h1v1h-1zM476 701h1v1h-1zM477 694h1v8h-1zM478 695h1v6h-1zM480 695h1v6h-1zM481 694h1v8h-1zM482 694h1v1h-1zM482 698h1v1h-1zM482 701h1v1h-1zM483 694h1v1h-1zM483 697h1v1h-1zM483 701h1v1h-1zM484 694h1v8h-1zM485 695h1v6h-1z"/>
<path aria-label="14:00" d="M516 696h1v1h-1zM516 701h1v1h-1zM517 695h1v1h-1zM517 701h1v1h-1zM518 694h1v8h-1zM519 694h1v8h-1zM520 701h1v1h-1zM521 701h1v1h-1zM523 698h1v2h-1zM524 697h1v3h-1zM525 696h1v2h-1zM525 699h1v1h-1zM526 695h1v2h-1zM526 699h1v1h-1zM527 694h1v8h-1zM528 694h1v8h-1zM531 696h1v1h-1zM531 701h1v1h-1zM532 695h1v3h-1zM532 700h1v3h-1zM533 695h1v3h-1zM533 700h1v3h-1zM534 696h1v1h-1zM534 701h1v1h-1zM537 695h1v6h-1zM538 694h1v8h-1zM539 694h1v1h-1zM539 698h1v1h-1zM539 701h1v1h-1zM540 694h1v1h-1zM540 697h1v1h-1zM540 701h1v1h-1zM541 694h1v8h-1zM542 695h1v6h-1zM544 695h1v6h-1zM545 694h1v8h-1zM546 694h1v1h-1zM546 698h1v1h-1zM546 701h1v1h-1zM547 694h1v1h-1zM547 697h1v1h-1zM547 701h1v1h-1zM548 694h1v8h-1zM549 695h1v6h-1z"/>
<path aria-label="16:00" d="M580 696h1v1h-1zM580 701h1v1h-1zM581 695h1v1h-1zM581 701h1v1h-1zM582 694h1v8h-1zM583 694h1v8h-1zM584 701h1v1h-1zM585 701h1v1h-1zM587 695h1v6h-1zM588 694h1v8h-1zM589 694h1v1h-1zM589 697h1v1h-1zM589 701h1v1h-1zM590 694h1v1h-1zM590 697h1v1h-1zM590 701h1v1h-1zM591 694h1v2h-1zM591 697h1v5h-1zM592 695h1v1h-1zM592 698h1v3h-1zM595 696h1v1h-1zM595 701h1v1h-1zM596 695h1v3h-1zM596 700h1v3h-1zM597 695h1v3h-1zM597 700h1v3h-1zM598 696h1v1h-1zM598 701h1v1h-1zM601 695h1v6h-1zM602 694h1v8h-1zM603 694h1v1h-1zM603 698h1v1h-1zM603 701h1v1h-1zM604 694h1v1h-1zM604 697h1v1h-1zM604 701h1v1h-1zM605 694h1v8h-1zM606 695h1v6h-1zM608 695h1v6h-1zM609 694h1v8h-1zM610 694h1v1h-1zM610 698h1v1h-1zM610 701h1v1h-1zM611 694h1v1h-1zM611 697h1v1h-1zM611 701h1v1h-1zM612 694h1v8h-1zM613 695h1v6h-1z"/>
<path aria-label="18:00" d="M644 696h1v1h-1zM644 701h1v1h-1zM645 695h1v1h-1zM645 701h1v1h-1zM646 694h1v8h-1zM647 694h1v8h-1zM648 701h1v1h-1zM649 701h1v1h-1zM651 695h1v2h-1zM651 698h1v3h-1zM652 694h1v8h-1zM653 694h1v1h-1zM653 697h1v1h-1zM653 701h1v1h-1zM654 694h1v1h-1zM654 697h1v1h-1zM654 701h1v1h-1zM655 694h1v8h-1zM656 695h1v2h-1zM656 698h1v3h-1zM659 696h1v1h-1zM659 701h1v1h-1zM660 695h1v3h-1zM660 700h1v3h-1zM661 695h1v3h-1zM661 700h1v3h-1zM662 696h1v1h-1zM662 701h1v1h-1zM665 695h1v6h-1zM666 694h1v8h-1zM667 694h1v1h-1zM667 698h1v1h-1zM667 701h1v1h-1zM668 694h1v1h-1zM668 697h1v1h-1zM668 701h1v1h-1zM669 694h1v8h-1zM670 695h1v6h-1zM672 695h1v6h-1zM673 694h1v8h-1zM674 694h1v1h-1zM674 698h1v1h-1zM674 701h1v1h-1zM675 694h1v1h-1zM675 697h1v1h-1zM675 701h1v1h-1zM676 694h1v8h-1zM677 695h1v6h-1z"/>
<path aria-label="20:00" d="M708 695h1v2h-1zM708 700h1v2h-1zM709 694h1v3h-1zM709 699h1v3h-1zM710 694h1v1h-1zM710 698h1v2h-1zM710 701h1v1h-1zM711 694h1v1h-1zM711 698h1v1h-1zM711 701h1v1h-1zM712 694h1v5h-1zM712 701h1v1h-1zM713 695h1v3h-1zM713 701h1v1h-1zM715 695h1v6h-1zM716 694h1v8h-1zM717 694h1v1h-1zM717 698h1v1h-1zM717 701h1v1h-1zM718 694h1v1h-1zM718 697h1v1h-1zM718 701h1v1h-1zM719 694h1v8h-1zM720 695h1v6h-1zM723 696h1v1h-1zM723 701h1v1h-1zM724 695h1v3h-1zM724 700h1v3h-1zM725 695h1v3h-1zM725 700h1v3h-1zM726 696h1v1h-1zM726 701h1v1h-1zM729 695h1v6h-1zM730 694h1v8h-1zM731 694h1v1h-1zM731 698h1v1h-1zM731 701h1v1h-1zM732 694h1v1h-1zM732 697h1v1h-1zM732 701h1v1h-1zM733 694h1v8h-1zM734 695h1v6h-1zM736 695h1v6h-1zM737 694h1v8h-1zM738 694h1v1h-1zM738 698h1v1h-1zM738 701h1v1h-1zM739 694h1v1h-1zM739 697h1v1h-1zM739 701h1v1h-1zM740 694h1v8h-1zM741 695h1v6h-1z"/>
<path aria-label="22:00" d="M773 694h4v1h-4zM780 694h4v1h-4zM794 694h4v1h-4zM801 694h4v1h-4zM772 695h2v1h-2zM776 695h2v1h-2zM779 695h2v1h-2zM783 695h2v1h-2zM788 695h2v1h-2zM793 695h2v1h-2zM797 695h2v1h-2zM800 695h2v1h-2zM804 695h2v1h-2zM772 696h2v1h-2zM776 696h2v1h-2zM779 696h2v1h-2zM783 696h2v1h-2zM787 696h4v1h-4zM793 696h2v1h-2zM797 696h2v1h-2zM800 696h2v1h-2zM804 696h2v1h-2zM776 697h2v1h-2zM783 697h2v1h-2zM788 697h2v1h-2zM793 697h2v1h-2zM796 697h3v1h-3zM800 697h2v1h-2zM803 697h3v1h-3zM774 698h3v1h-3zM781 698h3v1h-3zM793 698h3v1h-3zM797 698h2v1h-2zM800 698h3v1h-3zM804 698h2v1h-2zM773 699h2v1h-2zM780 699h2v1h-2zM793 699h2v1h-2zM797 699h2v1h-2zM800 699h2v1h-2zM804 699h2v1h-2zM772 700h2v1h-2zM779 700h2v1h-2zM788 700h2v1h-2zM793 700h2v1h-2zM797 700h2v1h-2zM800 700h2v1h-2zM804 700h2v1h-2zM772 701h6v1h-6zM779 701h6v1h-6zM787 701h4v1h-4zM794 701h4v1h-4zM801 701h4v1h-4zM788 702h2v1h-2z"/>
<path aria-label="0" d="M71 676h1v6h-1zM72 675h1v8h-1zM73 675h1v1h-1zM73 679h1v1h-1zM73 682h1v1h-1zM74 675h1v1h-1zM74 678h1v1h-1zM74 682h1v1h-1zM75 675h1v8h-1zM76 676h1v6h-1z"/>
<path aria-label="1000" d="M41 592h1v1h-1zM41 597h1v1h-1zM42 591h1v1h-1zM42 597h1v1h-1zM43 590h1v8h-1zM44 590h1v8h-1zM45 597h1v1h-1zM46 597h1v1h-1zM48 591h1v6h-1zM49 590h1v8h-1zM50 590h1v1h-1zM50 594h1v1h-1zM50 597h1v1h-1zM51 590h1v1h-1zM51 593h1v1h-1zM51 597h1v1h-1zM52 590h1v8h-1zM53 591h1v6h-1zM55 591h1v6h-1zM56 590h1v8h-1zM57 590h1v1h-1zM57 594h1v1h-1zM57 597h1v1h-1zM58 590h1v1h-1zM58 593h1v1h-1zM58 597h1v1h-1zM59 590h1v8h-1zM60 591h1v6h-1zM62 591h1v6h-1zM63 590h1v8h-1zM64 590h1v1h-1zM64 594h1v1h-1zM64 597h1v1h-1zM65 590h1v1h-1zM65 593h1v1h-1zM65 597h1v1h-1zM66 590h1v8h-1zM67 591h1v6h-1z"/>
<path aria-label="2000" d="M41 505h1v2h-1zM41 510h1v2h-1zM42 504h1v3h-1zM42 509h1v3h-1zM43 504h1v1h-1zM43 508h1v2h-1zM43 511h1v1h-1zM44 504h1v1h-1zM44 508h1v1h-1zM44 511h1v1h-1zM45 504h1v5h-1zM45 511h1v1h-1zM46 505h1v3h-1zM46 511h1v1h-1zM48 505h1v6h-1zM49 504h1v8h-1zM50 504h1v1h-1zM50 508h1v1h-1zM50 511h1v1h-1zM51 504h1v1h-1zM51 507h1v1h-1zM51 511h1v1h-1zM52 504h1v8h-1zM53 505h1v6h-1zM55 505h1v6h-1zM56 504h1v8h-1zM57 504h1v1h-1zM57 508h1v1h-1zM57 511h1v1h-1zM58 504h1v1h-1zM58 507h1v1h-1zM58 511h1v1h-1zM59 504h1v8h-1zM60 505h1v6h-1zM62 505h1v6h-1zM63 504h1v8h-1zM64 504h1v1h-1zM64 508h1v1h-1zM64 511h1v1h-1zM65 504h1v1h-1zM65 507h1v1h-1zM65 511h1v1h-1zM66 504h1v8h-1zM67 505h1v6h-1z"/>
<path aria-label="3000" d="M41 420h1v1h-1zM41 425h1v1h-1zM42 419h1v2h-1zM42 422h1v1h-1zM42 425h1v2h-1zM43 419h1v1h-1zM43 422h1v1h-1zM43 426h1v1h-1zM44 419h1v1h-1zM44 422h1v1h-1zM44 426h1v1h-1zM45 419h1v8h-1zM46 420h1v2h-1zM46 423h1v3h-1zM48 420h1v6h-1zM49 419h1v8h-1zM50 419h1v1h-1zM50 423h1v1h-1zM50 426h1v1h-1zM51 419h1v1h-1zM51 422h1v1h-1zM51 426h1v1h-1zM52 419h1v8h-1zM53 420h1v6h-1zM55 420h1v6h-1zM56 419h1v8h-1zM57 419h1v1h-1zM57 423h1v1h-1zM57 426h1v1h-1zM58 419h1v1h-1zM58 422h1v1h-1zM58 426h1v1h-1zM59 419h1v8h-1zM60 420h1v6h-1zM62 420h1v6h-1zM63 419h1v8h-1zM64 419h1v1h-1zM64 423h1v1h-1zM64 426h1v1h-1zM65 419h1v1h-1zM65 422h1v1h-1zM65 426h1v1h-1zM66 419h1v8h-1zM67 420h1v6h-1z"/>
<path aria-label="4000" d="M41 337h1v2h-1zM42 336h1v3h-1zM43 335h1v2h-1zM43 338h1v1h-1zM44 334h1v2h-1zM44 338h1v1h-1zM45 333h1v8h-1zM46 333h1v8h-1zM48 334h1v6h-1zM49 333h1v8h-1zM50 333h1v1h-1zM50 337h1v1h-1zM50 340h1v1h-1zM51 333h1v1h-1zM51 336h1v1h-1zM51 340h1v1h-1zM52 333h1v8h-1zM53 334h1v6h-1zM55 334h1v6h-1zM56 333h1v8h-1zM57 333h1v1h-1zM57 337h1v1h-1zM57 340h1v1h-1zM58 333h1v1h-1zM58 336h1v1h-1zM58 340h1v1h-1zM59 333h1v8h-1zM60 334h1v6h-1zM62 334h1v6h-1zM63 333h1v8h-1zM64 333h1v1h-1zM64 337h1v1h-1zM64 340h1v1h-1zM65 333h1v1h-1zM65 336h1v1h-1zM65 340h1v1h-1zM66 333h1v8h-1zM67 334h1v6h-1z"/>
<path aria-label="5000" d="M41 248h1v4h-1zM41 254h1v1h-1zM42 248h1v4h-1zM42 254h1v2h-1zM43 248h1v1h-1zM43 250h1v1h-1zM43 255h1v1h-1zM44 248h1v1h-1zM44 250h1v1h-1zM44 255h1v1h-1zM45 248h1v1h-1zM45 250h1v6h-1zM46 248h1v1h-1zM46 251h1v4h-1zM48 249h1v6h-1zM49 248h1v8h-1zM50 248h1v1h-1zM50 252h1v1h-1zM50 255h1v1h-1zM51 248h1v1h-1zM51 251h1v1h-1zM51 255h1v1h-1zM52 248h1v8h-1zM53 249h1v6h-1zM55 249h1v6h-1zM56 248h1v8h-1zM57 248h1v1h-1zM57 252h1v1h-1zM57 255h1v1h-1zM58 248h1v1h-1zM58 251h1v1h-1zM58 255h1v1h-1zM59 248h1v8h-1zM60 249h1v6h-1zM62 249h1v6h-1zM63 248h1v8h-1zM64 248h1v1h-1zM64 252h1v1h-1zM64 255h1v1h-1zM65 248h1v1h-1zM65 251h1v1h-1zM65 255h1v1h-1zM66 248h1v8h-1zM67 249h1v6h-1z"/>
<path aria-label="6000" d="M41 163h1v6h-1zM42 162h1v8h-1zM43 162h1v1h-1zM43 165h1v1h-1zM43 169h1v1h-1zM44 162h1v1h-1zM44 165h1v1h-1zM44 169h1v1h-1zM45 162h1v2h-1zM45 165h1v5h-1zM46 163h1v1h-1zM46 166h1v3h-1zM48 163h1v6h-1zM49 162h1v8h-1zM50 162h1v1h-1zM50 166h1v1h-1zM50 169h1v1h-1zM51 162h1v1h-1zM51 165h1v1h-1zM51 169h1v1h-1zM52 162h1v8h-1zM53 163h1v6h-1zM55 163h1v6h-1zM56 162h1v8h-1zM57 162h1v1h-1zM57 166h1v1h-1zM57 169h1v1h-1zM58 162h1v1h-1zM58 165h1v1h-1zM58 169h1v1h-1zM59 162h1v8h-1zM60 163h1v6h-1zM62 163h1v6h-1zM63 162h1v8h-1zM64 162h1v1h-1zM64 166h1v1h-1zM64 169h1v1h-1zM65 162h1v1h-1zM65 165h1v1h-1zM65 169h1v1h-1zM66 162h1v8h-1zM67 163h1v6h-1z"/>
<path aria-label="7000" d="M41 77h1v1h-1zM42 77h1v1h-1zM42 83h1v2h-1zM43 77h1v1h-1zM43 81h1v4h-1zM44 77h1v1h-1zM44 79h1v4h-1zM45 77h1v4h-1zM46 77h1v2h-1zM48 78h1v6h-1zM49 77h1v8h-1zM50 77h1v1h-1zM50 81h1v1h-1zM50 84h1v1h-1zM51 77h1v1h-1zM51 80h1v1h-1zM51 84h1v1h-1zM52 77h1v8h-1zM53 78h1v6h-1zM55 78h1v6h-1zM56 77h1v8h-1zM57 77h1v1h-1zM57 81h1v1h-1zM57 84h1v1h-1zM58 77h1v1h-1zM58 80h1v1h-1zM58 84h1v1h-1zM59 77h1v8h-1zM60 78h1v6h-1zM62 78h1v6h-1zM63 77h1v8h-1zM64 77h1v1h-1zM64 81h1v1h-1zM64 84h1v1h-1zM65 77h1v1h-1zM65 80h1v1h-1zM65 84h1v1h-1zM66 77h1v8h-1zM67 78h1v6h-1z"/>
<path aria-label="0" d="M877 676h1v6h-1zM878 675h1v8h-1zM879 675h1v1h-1zM879 679h1v1h-1zM879 682h1v1h-1zM880 675h1v1h-1zM880 678h1v1h-1zM880 682h1v1h-1zM881 675h1v8h-1zM882 676h1v6h-1z"/>
<path aria-label="5" d="M877 606h6v1h-6zM877 607h2v1h-2zM877 608h5v1h-5zM877 609h2v1h-2zM881 609h2v1h-2zM881 610h2v1h-2zM881 611h2v1h-2zM877 612h2v1h-2zM881 612h2v1h-2zM878 613h4v1h-4z"/>
<path aria-label="10" d="M877 538h1v1h-1zM877 543h1v1h-1zM878 537h1v1h-1zM878 543h1v1h-1zM879 536h1v8h-1zM880 536h1v8h-1zM881 543h1v1h-1zM882 543h1v1h-1zM884 537h1v6h-1zM885 536h1v8h-1zM886 536h1v1h-1zM886 540h1v1h-1zM886 543h1v1h-1zM887 536h1v1h-1zM887 539h1v1h-1zM887 543h1v1h-1zM888 536h1v8h-1zM889 537h1v6h-1z"/>
<path aria-label="15" d="M879 467h2v1h-2zM884 467h6v1h-6zM878 468h3v1h-3zM884 468h2v1h-2zM877 469h1v1h-1zM879 469h2v1h-2zM884 469h5v1h-5zM879 470h2v1h-2zM884 470h2v1h-2zM888 470h2v1h-2zM879 471h2v1h-2zM888 471h2v1h-2zM879 472h2v1h-2zM888 472h2v1h-2zM879 473h2v1h-2zM884 473h2v1h-2zM888 473h2v1h-2zM877 474h6v1h-6zM885 474h4v1h-4z"/>
<path aria-label="20" d="M878 398h4v1h-4zM885 398h4v1h-4zM877 399h2v1h-2zM881 399h2v1h-2zM884 399h2v1h-2zM888 399h2v1h-2zM877 400h2v1h-2zM881 400h2v1h-2zM884 400h2v1h-2zM888 400h2v1h-2zM881 401h2v1h-2zM884 401h2v1h-2zM887 401h3v1h-3zM879 402h3v1h-3zM884 402h3v1h-3zM888 402h2v1h-2zM878 403h2v1h-2zM884 403h2v1h-2zM888 403h2v1h-2zM877 404h2v1h-2zM884 404h2v1h-2zM888 404h2v1h-2zM877 405h6v1h-6zM885 405h4v1h-4z"/>
<path aria-label="25" d="M878 328h4v1h-4zM884 328h6v1h-6zM877 329h2v1h-2zM881 329h2v1h-2zM884 329h2v1h-2zM877 330h2v1h-2zM881 330h2v1h-2zM884 330h5v1h-5zM881 331h2v1h-2zM884 331h2v1h-2zM888 331h2v1h-2zM879 332h3v1h-3zM888 332h2v1h-2zM878 333h2v1h-2zM888 333h2v1h-2zM877 334h2v1h-2zM884 334h2v1h-2zM888 334h2v1h-2zM877 335h6v1h-6zM885 335h4v1h-4z"/>
<path aria-label="30" d="M878 259h4v1h-4zM885 259h4v1h-4zM877 260h2v1h-2zM881 260h2v1h-2zM884 260h2v1h-2zM888 260h2v1h-2zM881 261h2v1h-2zM884 261h2v1h-2zM888 261h2v1h-2zM878 262h4v1h-4zM884 262h2v1h-2zM887 262h3v1h-3zM881 263h2v1h-2zM884 263h3v1h-3zM888 263h2v1h-2zM881 264h2v1h-2zM884 264h2v1h-2zM888 264h2v1h-2zM877 265h2v1h-2zM881 265h2v1h-2zM884 265h2v1h-2zM888 265h2v1h-2zM878 266h4v1h-4zM885 266h4v1h-4z"/>
<path aria-label="35" d="M878 190h4v1h-4zM884 190h6v1h-6zM877 191h2v1h-2zM881 191h2v1h-2zM884 191h2v1h-2zM881 192h2v1h-2zM884 192h5v1h-5zM878 193h4v1h-4zM884 193h2v1h-2zM888 193h2v1h-2zM881 194h2v1h-2zM888 194h2v1h-2zM881 195h2v1h-2zM888 195h2v1h-2zM877 196h2v1h-2zM881 196h2v1h-2zM884 196h2v1h-2zM888 196h2v1h-2zM878 197h4v1h-4zM885 197h4v1h-4z"/>
<path aria-label="40" d="M877 124h1v2h-1zM878 123h1v3h-1zM879 122h1v2h-1zM879 125h1v1h-1zM880 121h1v2h-1zM880 125h1v1h-1zM881 120h1v8h-1zM882 120h1v8h-1zM884 121h1v6h-1zM885 120h1v8h-1zM886 120h1v1h-1zM886 124h1v1h-1zM886 127h1v1h-1zM887 120h1v1h-1zM887 123h1v1h-1zM887 127h1v1h-1zM888 120h1v8h-1zM889 121h1v6h-1z"/>
<path aria-label="45" d="M881 51h2v1h-2zM884 51h6v1h-6zM880 52h3v1h-3zM884 52h2v1h-2zM879 53h4v1h-4zM884 53h5v1h-5zM878 54h2v1h-2zM881 54h2v1h-2zM884 54h2v1h-2zM888 54h2v1h-2zM877 55h2v1h-2zM881 55h2v1h-2zM888 55h2v1h-2zM877 56h6v1h-6zM888 56h2v1h-2zM881 57h2v1h-2zM884 57h2v1h-2zM888 57h2v1h-2zM881 58h2v1h-2zM885 58h4v1h-4z"/>
<path aria-label="Tagesdiagramm vom 2023-06-30" d="M376 22h2v1h-2zM381 22h2v1h-2zM337 23h6v1h-6zM376 23h2v1h-2zM381 23h2v1h-2zM464 23h4v1h-4zM471 23h4v1h-4zM478 23h4v1h-4zM485 23h4v1h-4zM499 23h4v1h-4zM506 23h4v1h-4zM520 23h4v1h-4zM527 23h4v1h-4zM339 24h2v1h-2zM376 24h2v1h-2zM463 24h2v1h-2zM467 24h2v1h-2zM470 24h2v1h-2zM474 24h2v1h-2zM477 24h2v1h-2zM481 24h2v1h-2zM484 24h2v1h-2zM488 24h2v1h-2zM498 24h2v1h-2zM502 24h2v1h-2zM505 24h2v1h-2zM509 24h2v1h-2zM519 24h2v1h-2zM523 24h2v1h-2zM526 24h2v1h-2zM530 24h2v1h-2zM339 25h2v1h-2zM345 25h4v1h-4zM352 25h3v1h-3zM356 25h1v1h-1zM359 25h4v1h-4zM366 25h4v1h-4zM373 25h5v1h-5zM380 25h3v1h-3zM387 25h4v1h-4zM394 25h3v1h-3zM398 25h1v1h-1zM400 25h5v1h-5zM408 25h4v1h-4zM414 25h2v1h-2zM417 25h2v1h-2zM421 25h2v1h-2zM424 25h2v1h-2zM435 25h2v1h-2zM439 25h2v1h-2zM443 25h4v1h-4zM449 25h2v1h-2zM452 25h2v1h-2zM463 25h2v1h-2zM467 25h2v1h-2zM470 25h2v1h-2zM474 25h2v1h-2zM477 25h2v1h-2zM481 25h2v1h-2zM488 25h2v1h-2zM498 25h2v1h-2zM502 25h2v1h-2zM505 25h2v1h-2zM523 25h2v1h-2zM526 25h2v1h-2zM530 25h2v1h-2zM339 26h2v1h-2zM348 26h2v1h-2zM351 26h2v1h-2zM355 26h2v1h-2zM358 26h2v1h-2zM362 26h2v1h-2zM365 26h2v1h-2zM369 26h2v1h-2zM372 26h2v1h-2zM376 26h2v1h-2zM381 26h2v1h-2zM390 26h2v1h-2zM393 26h2v1h-2zM397 26h2v1h-2zM400 26h2v1h-2zM404 26h2v1h-2zM411 26h2v1h-2zM414 26h6v1h-6zM421 26h6v1h-6zM435 26h2v1h-2zM439 26h2v1h-2zM442 26h2v1h-2zM446 26h2v1h-2zM449 26h6v1h-6zM467 26h2v1h-2zM470 26h2v1h-2zM473 26h3v1h-3zM481 26h2v1h-2zM485 26h4v1h-4zM491 26h6v1h-6zM498 26h2v1h-2zM501 26h3v1h-3zM505 26h5v1h-5zM512 26h6v1h-6zM520 26h4v1h-4zM526 26h2v1h-2zM529 26h3v1h-3zM339 27h2v1h-2zM345 27h5v1h-5zM351 27h2v1h-2zM355 27h2v1h-2zM358 27h6v1h-6zM366 27h2v1h-2zM372 27h2v1h-2zM376 27h2v1h-2zM381 27h2v1h-2zM387 27h5v1h-5zM393 27h2v1h-2zM397 27h2v1h-2zM400 27h2v1h-2zM408 27h5v1h-5zM414 27h6v1h-6zM421 27h6v1h-6zM435 27h2v1h-2zM439 27h2v1h-2zM442 27h2v1h-2zM446 27h2v1h-2zM449 27h6v1h-6zM465 27h3v1h-3zM470 27h3v1h-3zM474 27h2v1h-2zM479 27h3v1h-3zM488 27h2v1h-2zM491 27h6v1h-6zM498 27h3v1h-3zM502 27h2v1h-2zM505 27h2v1h-2zM509 27h2v1h-2zM512 27h6v1h-6zM523 27h2v1h-2zM526 27h3v1h-3zM530 27h2v1h-2zM339 28h2v1h-2zM344 28h2v1h-2zM348 28h2v1h-2zM352 28h4v1h-4zM358 28h2v1h-2zM368 28h2v1h-2zM372 28h2v1h-2zM376 28h2v1h-2zM381 28h2v1h-2zM386 28h2v1h-2zM390 28h2v1h-2zM394 28h4v1h-4zM400 28h2v1h-2zM407 28h2v1h-2zM411 28h2v1h-2zM414 28h2v1h-2zM418 28h2v1h-2zM421 28h2v1h-2zM425 28h2v1h-2zM436 28h4v1h-4zM442 28h2v1h-2zM446 28h2v1h-2zM449 28h2v1h-2zM453 28h2v1h-2zM464 28h2v1h-2zM470 28h2v1h-2zM474 28h2v1h-2zM478 28h2v1h-2zM488 28h2v1h-2zM498 28h2v1h-2zM502 28h2v1h-2zM505 28h2v1h-2zM509 28h2v1h-2zM523 28h2v1h-2zM526 28h2v1h-2zM530 28h2v1h-2zM339 29h2v1h-2zM344 29h2v1h-2zM348 29h2v1h-2zM351 29h2v1h-2zM358 29h2v1h-2zM362 29h2v1h-2zM365 29h2v1h-2zM369 29h2v1h-2zM372 29h2v1h-2zM376 29h2v1h-2zM381 29h2v1h-2zM386 29h2v1h-2zM390 29h2v1h-2zM393 29h2v1h-2zM400 29h2v1h-2zM407 29h2v1h-2zM411 29h2v1h-2zM414 29h2v1h-2zM418 29h2v1h-2zM421 29h2v1h-2zM425 29h2v1h-2zM436 29h4v1h-4zM442 29h2v1h-2zM446 29h2v1h-2zM449 29h2v1h-2zM453 29h2v1h-2zM463 29h2v1h-2zM470 29h2v1h-2zM474 29h2v1h-2zM477 29h2v1h-2zM484 29h2v1h-2zM488 29h2v1h-2zM498 29h2v1h-2zM502 29h2v1h-2zM505 29h2v1h-2zM509 29h2v1h-2zM519 29h2v1h-2zM523 29h2v1h-2zM526 29h2v1h-2zM530 29h2v1h-2zM339 30h2v1h-2zM345 30h5v1h-5zM352 30h4v1h-4zM359 30h4v1h-4zM366 30h4v1h-4zM373 30h5v1h-5zM379 30h6v1h-6zM387 30h5v1h-5zM394 30h4v1h-4zM400 30h2v1h-2zM408 30h5v1h-5zM414 30h2v1h-2zM418 30h2v1h-2zM421 30h2v1h-2zM425 30h2v1h-2zM437 30h2v1h-2zM443 30h4v1h-4zM449 30h2v1h-2zM453 30h2v1h-2zM463 30h6v1h-6zM471 30h4v1h-4zM477 30h6v1h-6zM485 30h4v1h-4zM499 30h4v1h-4zM506 30h4v1h-4zM520 30h4v1h-4zM527 30h4v1h-4zM351 31h2v1h-2zM355 31h2v1h-2zM393 31h2v1h-2zM397 31h2v1h-2zM352 32h4v1h-4zM394 32h4v1h-4z"/>
<path aria-label="Leistung [W]" d="M10 348h9v1h-9zM10 349h9v1h-9zM10 350h1v1h-1zM18 350h1v1h-1zM10 351h1v1h-1zM18 351h1v1h-1zM11 354h8v1h-8zM11 355h7v1h-7zM15 356h2v1h-2zM15 357h2v1h-2zM11 358h7v1h-7zM11 359h8v1h-8zM10 362h1v1h-1zM18 362h1v1h-1zM10 363h1v1h-1zM18 363h1v1h-1zM10 364h9v1h-9zM10 365h9v1h-9zM13 375h3v1h-3zM19 375h1v1h-1zM14 376h3v1h-3zM18 376h3v1h-3zM13 377h1v1h-1zM16 377h1v1h-1zM18 377h1v1h-1zM20 377h1v1h-1zM13 378h1v1h-1zM16 378h1v1h-1zM18 378h1v1h-1zM20 378h1v1h-1zM13 379h8v1h-8zM14 380h2v1h-2zM17 380h1v1h-1zM19 380h1v1h-1zM14 382h5v1h-5zM13 383h6v1h-6zM13 384h1v1h-1zM13 385h1v1h-1zM13 386h6v1h-6zM13 387h6v1h-6zM13 389h6v1h-6zM13 390h6v1h-6zM18 391h1v1h-1zM18 392h1v1h-1zM13 393h6v1h-6zM13 394h5v1h-5zM17 396h1v1h-1zM13 397h1v1h-1zM17 397h2v1h-2zM13 398h1v1h-1zM18 398h1v1h-1zM11 399h8v1h-8zM11 400h7v1h-7zM13 401h1v1h-1zM14 403h1v1h-1zM17 403h1v1h-1zM13 404h2v1h-2zM16 404h3v1h-3zM13 405h1v1h-1zM16 405h1v1h-1zM18 405h1v1h-1zM13 406h1v1h-1zM15 406h1v1h-1zM18 406h1v1h-1zM13 407h3v1h-3zM17 407h2v1h-2zM14 408h1v1h-1zM17 408h1v1h-1zM18 410h1v1h-1zM18 411h1v1h-1zM10 412h2v1h-2zM13 412h6v1h-6zM10 413h2v1h-2zM13 413h6v1h-6zM13 414h1v1h-1zM18 414h1v1h-1zM18 415h1v1h-1zM14 417h2v1h-2zM17 417h1v1h-1zM13 418h3v1h-3zM17 418h2v1h-2zM13 419h1v1h-1zM15 419h1v1h-1zM18 419h1v1h-1zM13 420h1v1h-1zM15 420h1v1h-1zM18 420h1v1h-1zM13 421h6v1h-6zM14 422h4v1h-4zM18 424h1v1h-1zM18 425h1v1h-1zM18 426h1v1h-1zM18 427h1v1h-1zM11 428h8v1h-8zM11 429h8v1h-8z"/>
<path aria-label="Energie [kWh]" d="M912 346h9v1h-9zM912 347h9v1h-9zM912 348h1v1h-1zM920 348h1v1h-1zM912 349h1v1h-1zM920 349h1v1h-1zM916 352h5v1h-5zM915 353h6v1h-6zM915 354h1v1h-1zM915 355h1v1h-1zM912 356h9v1h-9zM912 357h9v1h-9zM913 359h8v1h-8zM913 360h7v1h-7zM917 361h2v1h-2zM917 362h2v1h-2zM913 363h7v1h-7zM913 364h8v1h-8zM915 366h1v1h-1zM920 366h1v1h-1zM915 367h2v1h-2zM919 367h2v1h-2zM916 368h4v1h-4zM917 369h2v1h-2zM912 370h9v1h-9zM912 371h9v1h-9zM912 374h1v1h-1zM920 374h1v1h-1zM912 375h1v1h-1zM920 375h1v1h-1zM912 376h9v1h-9zM912 377h9v1h-9zM916 387h2v1h-2zM919 387h1v1h-1zM915 388h3v1h-3zM919 388h2v1h-2zM915 389h1v1h-1zM917 389h1v1h-1zM920 389h1v1h-1zM915 390h1v1h-1zM917 390h1v1h-1zM920 390h1v1h-1zM915 391h6v1h-6zM916 392h4v1h-4zM920 394h1v1h-1zM920 395h1v1h-1zM912 396h2v1h-2zM915 396h6v1h-6zM912 397h2v1h-2zM915 397h6v1h-6zM915 398h1v1h-1zM920 398h1v1h-1zM920 399h1v1h-1zM915 401h3v1h-3zM921 401h1v1h-1zM916 402h3v1h-3zM920 402h3v1h-3zM915 403h1v1h-1zM918 403h1v1h-1zM920 403h1v1h-1zM922 403h1v1h-1zM915 404h1v1h-1zM918 404h1v1h-1zM920 404h1v1h-1zM922 404h1v1h-1zM915 405h8v1h-8zM916 406h2v1h-2zM919 406h1v1h-1zM921 406h1v1h-1zM916 408h1v1h-1zM915 409h2v1h-2zM915 410h1v1h-1zM915 411h1v1h-1zM915 412h6v1h-6zM915 413h6v1h-6zM916 415h2v1h-2zM919 415h1v1h-1zM915 416h3v1h-3zM919 416h2v1h-2zM915 417h1v1h-1zM917 417h1v1h-1zM920 417h1v1h-1zM915 418h1v1h-1zM917 418h1v1h-1zM920 418h1v1h-1zM915 419h6v1h-6zM916 420h4v1h-4zM916 422h5v1h-5zM915 423h6v1h-6zM915 424h1v1h-1zM915 425h1v1h-1zM915 426h6v1h-6zM915 427h6v1h-6zM913 429h1v1h-1zM920 429h1v1h-1zM913 430h1v1h-1zM916 430h1v1h-1zM920 430h1v1h-1zM913 431h1v1h-1zM916 431h1v1h-1zM920 431h1v1h-1zM913 432h1v1h-1zM916 432h1v1h-1zM920 432h1v1h-1zM913 433h8v1h-8zM913 434h8v1h-8z"/>
</g>
</svg>
</body></html>
